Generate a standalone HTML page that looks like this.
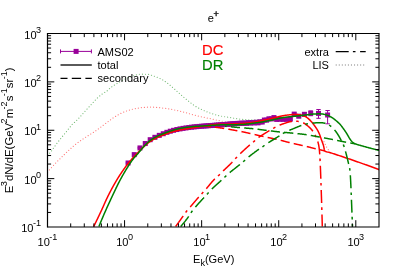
<!DOCTYPE html><html><head><meta charset="utf-8"><style>html,body{margin:0;padding:0;background:#fff}body{width:399px;height:279px;overflow:hidden}</style></head><body><svg width="399" height="279" viewBox="0 0 399 279" style="display:block;will-change:transform;opacity:0.999"><rect width="399" height="279" fill="#fff"/><defs><clipPath id="c"><rect x="47.5" y="33.5" width="331.5" height="193.5"/></clipPath></defs><g clip-path="url(#c)"><path d="M47.50,172.20 L48.28,171.28 L49.06,170.36 L49.83,169.46 L50.61,168.57 L51.39,167.69 L52.17,166.82 L52.94,165.97 L53.72,165.13 L54.50,164.30 L55.28,163.48 L56.05,162.68 L56.83,161.90 L57.61,161.12 L58.39,160.35 L59.16,159.59 L59.94,158.83 L60.72,158.07 L61.50,157.31 L62.27,156.54 L63.05,155.78 L63.83,155.02 L64.61,154.26 L65.38,153.51 L66.16,152.77 L66.94,152.03 L67.72,151.30 L68.49,150.58 L69.27,149.87 L70.05,149.16 L70.83,148.46 L71.61,147.76 L72.38,147.07 L73.16,146.39 L73.94,145.72 L74.72,145.07 L75.49,144.44 L76.27,143.82 L77.05,143.23 L77.83,142.64 L78.60,142.07 L79.38,141.51 L80.16,140.96 L80.94,140.42 L81.71,139.89 L82.49,139.36 L83.27,138.84 L84.05,138.32 L84.82,137.81 L85.60,137.30 L86.38,136.80 L87.16,136.29 L87.93,135.78 L88.71,135.29 L89.49,134.81 L90.27,134.34 L91.05,133.87 L91.82,133.40 L92.60,132.92 L93.38,132.43 L94.16,131.93 L94.93,131.41 L95.71,130.87 L96.49,130.32 L97.27,129.76 L98.04,129.20 L98.82,128.62 L99.60,128.04 L100.38,127.46 L101.15,126.87 L101.93,126.28 L102.71,125.70 L103.49,125.12 L104.26,124.54 L105.04,123.97 L105.82,123.40 L106.60,122.81 L107.37,122.22 L108.15,121.62 L108.93,121.02 L109.71,120.43 L110.48,119.84 L111.26,119.26 L112.04,118.70 L112.82,118.15 L113.60,117.62 L114.37,117.11 L115.15,116.63 L115.93,116.17 L116.71,115.71 L117.48,115.26 L118.26,114.82 L119.04,114.39 L119.82,113.97 L120.59,113.57 L121.37,113.18 L122.15,112.80 L122.93,112.45 L123.70,112.11 L124.48,111.80 L125.26,111.50 L126.04,111.22 L126.81,110.95 L127.59,110.68 L128.37,110.43 L129.15,110.18 L129.92,109.95 L130.70,109.72 L131.48,109.51 L132.26,109.31 L133.04,109.12 L133.81,108.94 L134.59,108.78 L135.37,108.63 L136.15,108.49 L136.92,108.35 L137.70,108.21 L138.48,108.08 L139.26,107.95 L140.03,107.83 L140.81,107.72 L141.59,107.62 L142.37,107.53 L143.14,107.45 L143.92,107.38 L144.70,107.32 L145.48,107.27 L146.25,107.23 L147.03,107.19 L147.81,107.15 L148.59,107.12 L149.36,107.10 L150.14,107.10 L150.92,107.11 L151.70,107.12 L152.47,107.15 L153.25,107.18 L154.03,107.22 L154.81,107.27 L155.59,107.33 L156.36,107.39 L157.14,107.45 L157.92,107.53 L158.70,107.60 L159.47,107.68 L160.25,107.76 L161.03,107.85 L161.81,107.94 L162.58,108.02 L163.36,108.11 L164.14,108.20 L164.92,108.29 L165.69,108.38 L166.47,108.48 L167.25,108.60 L168.03,108.72 L168.80,108.84 L169.58,108.98 L170.36,109.12 L171.14,109.27 L171.91,109.42 L172.69,109.58 L173.47,109.75 L174.25,109.92 L175.03,110.09 L175.80,110.27 L176.58,110.45 L177.36,110.63 L178.14,110.81 L178.91,110.99 L179.69,111.18 L180.47,111.36 L181.25,111.55 L182.02,111.73 L182.80,111.92 L183.58,112.12 L184.36,112.32 L185.13,112.53 L185.91,112.75 L186.69,112.97 L187.47,113.19 L188.24,113.42 L189.02,113.64 L189.80,113.86 L190.58,114.08 L191.35,114.29 L192.13,114.50 L192.91,114.71 L193.69,114.91 L194.46,115.11 L195.24,115.31 L196.02,115.51 L196.80,115.71 L197.58,115.91 L198.35,116.10 L199.13,116.29 L199.91,116.48 L200.69,116.66 L201.46,116.84 L202.24,117.01 L203.02,117.18 L203.80,117.35 L204.57,117.51 L205.35,117.67 L206.13,117.83 L206.91,117.99 L207.68,118.15 L208.46,118.31 L209.24,118.47 L210.02,118.63 L210.79,118.79 L211.57,118.96 L212.35,119.13 L213.13,119.31 L213.90,119.48 L214.68,119.66 L215.46,119.85 L216.24,120.03 L217.02,120.20 L217.79,120.38 L218.57,120.55 L219.35,120.71 L220.13,120.87 L220.90,121.01 L221.68,121.15 L222.46,121.29 L223.24,121.43 L224.01,121.57 L224.79,121.71 L225.57,121.83 L226.35,121.94 L227.12,122.02 L227.90,122.08 L228.68,122.12 L229.46,122.16 L230.23,122.19 L231.01,122.22 L231.79,122.25 L232.57,122.27 L233.34,122.30 L234.12,122.32 L234.90,122.34 L235.68,122.36 L236.45,122.37 L237.23,122.38 L238.01,122.39 L238.79,122.40 L239.57,122.40 L240.34,122.40 L241.12,122.39 L241.90,122.37 L242.68,122.34 L243.45,122.31 L244.23,122.26 L245.01,122.21 L245.79,122.16 L246.56,122.09 L247.34,122.02 L248.12,121.94 L248.90,121.86 L249.67,121.78 L250.45,121.69 L251.23,121.59 L252.01,121.49 L252.78,121.39 L253.56,121.29 L254.34,121.18 L255.12,121.08 L255.89,120.97 L256.67,120.86 L257.45,120.75 L258.23,120.64 L259.01,120.54 L259.78,120.43 L260.56,120.32 L261.34,120.21 L262.12,120.09 L262.89,119.97 L263.67,119.84 L264.45,119.71 L265.23,119.57 L266.00,119.43 L266.78,119.28 L267.56,119.13 L268.34,118.97 L269.11,118.81 L269.89,118.65 L270.67,118.48 L271.45,118.31 L272.22,118.13 L273.00,117.95 L273.78,117.77 L274.56,117.58 L275.33,117.39 L276.11,117.20 L276.89,117.01 L277.67,116.81 L278.44,116.61 L279.22,116.40 L280.00,116.20" fill="none" stroke="#ff0000" stroke-width="1.2" stroke-dasharray="0.01,3.04" stroke-opacity="0.52" stroke-linecap="round"/><path d="M324.00,141.60 L324.02,141.65 L324.05,141.71 L324.07,141.76 L324.10,141.82 L324.12,141.87 L324.14,141.92 L324.17,141.98 L324.19,142.03 L324.21,142.09 L324.24,142.14 L324.26,142.19 L324.29,142.25 L324.31,142.30 L324.34,142.36 L324.36,142.41 L324.38,142.46 L324.41,142.52 L324.43,142.57 L324.46,142.62 L324.48,142.68 L324.51,142.73 L324.53,142.78 L324.56,142.84 L324.58,142.89 L324.61,142.95 L324.63,143.00 L324.65,143.05 L324.68,143.11 L324.70,143.16 L324.73,143.21 L324.75,143.27 L324.78,143.32 L324.80,143.37 L324.83,143.43 L324.85,143.48 L324.88,143.53 L324.91,143.59 L324.93,143.64 L324.96,143.69 L324.98,143.75 L325.01,143.80 L325.03,143.85 L325.06,143.91 L325.08,143.96 L325.11,144.01 L325.13,144.07 L325.16,144.12 L325.19,144.17 L325.21,144.22 L325.24,144.28 L325.26,144.33 L325.29,144.38 L325.32,144.44 L325.34,144.49 L325.37,144.54 L325.39,144.60 L325.42,144.65 L325.44,144.70 L325.47,144.75 L325.50,144.81 L325.52,144.86 L325.55,144.91 L325.57,144.97 L325.60,145.02 L325.63,145.07 L325.65,145.13 L325.68,145.18 L325.71,145.23 L325.73,145.28 L325.76,145.34 L325.78,145.39 L325.81,145.44 L325.84,145.50 L325.86,145.55 L325.89,145.60 L325.92,145.65 L325.94,145.71 L325.97,145.76 L326.00,145.81 L326.02,145.86 L326.05,145.92 L326.08,145.97 L326.11,146.02 L326.13,146.07 L326.16,146.13 L326.19,146.18 L326.21,146.23 L326.24,146.28 L326.27,146.34 L326.30,146.39 L326.33,146.44 L326.35,146.49 L326.38,146.54 L326.41,146.60 L326.44,146.65 L326.46,146.70 L326.49,146.75 L326.52,146.80 L326.55,146.85 L326.58,146.91 L326.61,146.96 L326.64,147.01 L326.66,147.06 L326.69,147.11 L326.72,147.16 L326.75,147.21 L326.78,147.27 L326.81,147.32 L326.84,147.37 L326.87,147.42 L326.90,147.47 L326.93,147.52 L326.96,147.57 L326.99,147.62 L327.02,147.67 L327.05,147.72 L327.08,147.77 L327.11,147.82 L327.15,147.87 L327.18,147.92 L327.21,147.97 L327.24,148.02 L327.27,148.07 L327.31,148.12 L327.34,148.17 L327.37,148.22 L327.40,148.27 L327.43,148.32 L327.47,148.36 L327.50,148.41 L327.53,148.46 L327.57,148.51 L327.60,148.56 L327.63,148.61 L327.66,148.66 L327.70,148.71 L327.73,148.76 L327.76,148.81 L327.79,148.86 L327.83,148.91 L327.86,148.95 L327.89,149.00 L327.93,149.05 L327.96,149.10 L327.99,149.15 L328.02,149.20 L328.05,149.25 L328.09,149.30 L328.12,149.35 L328.15,149.40 L328.18,149.45 L328.21,149.50 L328.25,149.55 L328.28,149.60 L328.31,149.65 L328.34,149.70 L328.37,149.75 L328.40,149.80 L328.43,149.85 L328.46,149.90 L328.49,149.95 L328.52,150.00 L328.55,150.05 L328.58,150.10 L328.61,150.15 L328.64,150.21 L328.67,150.26 L328.70,150.31 L328.73,150.36 L328.76,150.41 L328.79,150.46 L328.82,150.51 L328.85,150.56 L328.88,150.61 L328.91,150.66 L328.94,150.71 L328.97,150.77 L329.00,150.82 L329.03,150.87 L329.06,150.92 L329.08,150.97 L329.11,151.02 L329.14,151.07 L329.17,151.12 L329.20,151.18 L329.23,151.23 L329.26,151.28 L329.29,151.33 L329.32,151.38 L329.34,151.43 L329.37,151.49 L329.40,151.54 L329.43,151.59 L329.46,151.64 L329.49,151.69 L329.52,151.74 L329.54,151.80 L329.57,151.85 L329.60,151.90" fill="none" stroke="#ff0000" stroke-width="1.2" stroke-dasharray="0.01,3.04" stroke-opacity="0.52" stroke-linecap="round"/><path d="M47.50,155.40 L48.26,154.68 L49.02,153.91 L49.78,153.06 L50.54,152.15 L51.30,151.18 L52.07,150.16 L52.83,149.11 L53.59,148.03 L54.35,146.95 L55.11,145.87 L55.87,144.80 L56.63,143.75 L57.39,142.74 L58.15,141.76 L58.91,140.80 L59.67,139.84 L60.43,138.89 L61.20,137.95 L61.96,137.02 L62.72,136.09 L63.48,135.16 L64.24,134.23 L65.00,133.31 L65.76,132.38 L66.52,131.46 L67.28,130.53 L68.04,129.59 L68.80,128.64 L69.57,127.64 L70.33,126.65 L71.09,125.69 L71.85,124.79 L72.61,123.99 L73.37,123.32 L74.13,122.72 L74.89,122.09 L75.65,121.38 L76.41,120.65 L77.17,119.89 L77.93,119.12 L78.70,118.32 L79.46,117.51 L80.22,116.68 L80.98,115.84 L81.74,114.99 L82.50,114.14 L83.26,113.28 L84.02,112.41 L84.78,111.55 L85.54,110.69 L86.30,109.83 L87.07,108.98 L87.83,108.14 L88.59,107.31 L89.35,106.49 L90.11,105.69 L90.87,104.89 L91.63,104.08 L92.39,103.27 L93.15,102.45 L93.91,101.63 L94.67,100.82 L95.43,100.02 L96.20,99.24 L96.96,98.47 L97.72,97.73 L98.48,97.02 L99.24,96.34 L100.00,95.70 L100.76,95.10 L101.52,94.55 L102.28,94.04 L103.04,93.55 L103.80,93.07 L104.57,92.59 L105.33,92.11 L106.09,91.60 L106.85,91.07 L107.61,90.49 L108.37,89.85 L109.13,89.06 L109.89,88.29 L110.65,87.68 L111.41,87.10 L112.17,86.55 L112.93,86.03 L113.70,85.53 L114.46,85.05 L115.22,84.59 L115.98,84.14 L116.74,83.70 L117.50,83.26 L118.26,82.82 L119.02,82.37 L119.78,81.92 L120.54,81.48 L121.30,81.04 L122.07,80.61 L122.83,80.18 L123.59,79.78 L124.35,79.38 L125.11,79.01 L125.87,78.66 L126.63,78.32 L127.39,78.00 L128.15,77.68 L128.91,77.38 L129.67,77.09 L130.43,76.80 L131.20,76.53 L131.96,76.27 L132.72,76.03 L133.48,75.79 L134.24,75.57 L135.00,75.33 L135.76,75.09 L136.52,74.85 L137.28,74.63 L138.04,74.44 L138.80,74.30 L139.57,74.22 L140.33,74.20 L141.09,74.20 L141.85,74.21 L142.61,74.21 L143.37,74.22 L144.13,74.23 L144.89,74.24 L145.65,74.26 L146.41,74.27 L147.17,74.29 L147.93,74.33 L148.70,74.43 L149.46,74.60 L150.22,74.82 L150.98,75.08 L151.74,75.35 L152.50,75.64 L153.26,75.92 L154.02,76.17 L154.78,76.43 L155.54,76.69 L156.30,76.97 L157.07,77.25 L157.83,77.55 L158.59,77.87 L159.35,78.20 L160.11,78.55 L160.87,78.93 L161.63,79.34 L162.39,79.78 L163.15,80.24 L163.91,80.72 L164.67,81.21 L165.43,81.72 L166.20,82.24 L166.96,82.80 L167.72,83.38 L168.48,83.98 L169.24,84.59 L170.00,85.22 L170.76,85.85 L171.52,86.49 L172.28,87.13 L173.04,87.80 L173.80,88.47 L174.57,89.15 L175.33,89.84 L176.09,90.51 L176.85,91.18 L177.61,91.86 L178.37,92.53 L179.13,93.20 L179.89,93.87 L180.65,94.54 L181.41,95.20 L182.17,95.85 L182.93,96.51 L183.70,97.17 L184.46,97.82 L185.22,98.47 L185.98,99.11 L186.74,99.75 L187.50,100.37 L188.26,100.98 L189.02,101.57 L189.78,102.16 L190.54,102.75 L191.30,103.34 L192.07,103.92 L192.83,104.48 L193.59,105.03 L194.35,105.56 L195.11,106.06 L195.87,106.54 L196.63,106.99 L197.39,107.42 L198.15,107.84 L198.91,108.24 L199.67,108.63 L200.43,109.00 L201.20,109.37 L201.96,109.72 L202.72,110.07 L203.48,110.40 L204.24,110.73 L205.00,111.06 L205.76,111.38 L206.52,111.69 L207.28,112.00 L208.04,112.30 L208.80,112.59 L209.57,112.87 L210.33,113.15 L211.09,113.41 L211.85,113.66 L212.61,113.90 L213.37,114.14 L214.13,114.36 L214.89,114.59 L215.65,114.80 L216.41,115.01 L217.17,115.22 L217.93,115.42 L218.70,115.60 L219.46,115.78 L220.22,115.95 L220.98,116.12 L221.74,116.27 L222.50,116.41 L223.26,116.54 L224.02,116.66 L224.78,116.78 L225.54,116.89 L226.30,117.01 L227.07,117.12 L227.83,117.23 L228.59,117.35 L229.35,117.47 L230.11,117.60 L230.87,117.74 L231.63,117.87 L232.39,118.01 L233.15,118.15 L233.91,118.28 L234.67,118.41 L235.43,118.53 L236.20,118.64 L236.96,118.74 L237.72,118.82 L238.48,118.91 L239.24,118.99 L240.00,119.08 L240.76,119.16 L241.52,119.25 L242.28,119.33 L243.04,119.40 L243.80,119.48 L244.57,119.54 L245.33,119.61 L246.09,119.66 L246.85,119.71 L247.61,119.74 L248.37,119.77 L249.13,119.79 L249.89,119.80 L250.65,119.80 L251.41,119.80 L252.17,119.79 L252.93,119.79 L253.70,119.78 L254.46,119.77 L255.22,119.76 L255.98,119.74 L256.74,119.73 L257.50,119.72 L258.26,119.70 L259.02,119.68 L259.78,119.66 L260.54,119.64 L261.30,119.62 L262.07,119.60 L262.83,119.57 L263.59,119.52 L264.35,119.47 L265.11,119.40 L265.87,119.32 L266.63,119.24 L267.39,119.14 L268.15,119.03 L268.91,118.92 L269.67,118.80 L270.43,118.67 L271.20,118.53 L271.96,118.39 L272.72,118.25 L273.48,118.10 L274.24,117.95 L275.00,117.80" fill="none" stroke="#008000" stroke-width="1.2" stroke-dasharray="0.01,3.04" stroke-opacity="0.52" stroke-linecap="round"/><path d="M128.07,162.59V163.39M125.87,162.59h4.4M125.87,163.39h4.4" stroke="#990099" stroke-width="1" fill="none"/><rect x="125.57" y="160.49" width="5" height="5" fill="#990099"/><path d="M134.24,154.21V155.01M132.04,154.21h4.4M132.04,155.01h4.4" stroke="#990099" stroke-width="1" fill="none"/><rect x="131.74" y="152.11" width="5" height="5" fill="#990099"/><path d="M139.98,147.53V148.33M137.78,147.53h4.4M137.78,148.33h4.4" stroke="#990099" stroke-width="1" fill="none"/><rect x="137.48" y="145.43" width="5" height="5" fill="#990099"/><path d="M145.25,143.13V143.93M143.05,143.13h4.4M143.05,143.93h4.4" stroke="#990099" stroke-width="1" fill="none"/><rect x="142.75" y="141.03" width="5" height="5" fill="#990099"/><path d="M150.19,139.29V140.09M147.99,139.29h4.4M147.99,140.09h4.4" stroke="#990099" stroke-width="1" fill="none"/><rect x="147.69" y="137.19" width="5" height="5" fill="#990099"/><path d="M154.90,136.90V137.70M152.70,136.90h4.4M152.70,137.70h4.4" stroke="#990099" stroke-width="1" fill="none"/><rect x="152.40" y="134.80" width="5" height="5" fill="#990099"/><path d="M159.27,134.95V135.75M157.07,134.95h4.4M157.07,135.75h4.4" stroke="#990099" stroke-width="1" fill="none"/><rect x="156.77" y="132.85" width="5" height="5" fill="#990099"/><path d="M163.25,133.32V134.12M161.05,133.32h4.4M161.05,134.12h4.4" stroke="#990099" stroke-width="1" fill="none"/><rect x="160.75" y="131.22" width="5" height="5" fill="#990099"/><path d="M166.89,131.92V132.72M164.69,131.92h4.4M164.69,132.72h4.4" stroke="#990099" stroke-width="1" fill="none"/><rect x="164.39" y="129.82" width="5" height="5" fill="#990099"/><path d="M170.30,130.81V131.61M168.10,130.81h4.4M168.10,131.61h4.4" stroke="#990099" stroke-width="1" fill="none"/><rect x="167.80" y="128.71" width="5" height="5" fill="#990099"/><path d="M173.59,129.91V130.71M171.39,129.91h4.4M171.39,130.71h4.4" stroke="#990099" stroke-width="1" fill="none"/><rect x="171.09" y="127.81" width="5" height="5" fill="#990099"/><path d="M176.83,129.14V129.94M174.63,129.14h4.4M174.63,129.94h4.4" stroke="#990099" stroke-width="1" fill="none"/><rect x="174.33" y="127.04" width="5" height="5" fill="#990099"/><path d="M180.01,128.50V129.30M177.81,128.50h4.4M177.81,129.30h4.4" stroke="#990099" stroke-width="1" fill="none"/><rect x="177.51" y="126.40" width="5" height="5" fill="#990099"/><path d="M183.06,127.97V128.77M180.86,127.97h4.4M180.86,128.77h4.4" stroke="#990099" stroke-width="1" fill="none"/><rect x="180.56" y="125.87" width="5" height="5" fill="#990099"/><path d="M185.99,127.52V128.32M183.79,127.52h4.4M183.79,128.32h4.4" stroke="#990099" stroke-width="1" fill="none"/><rect x="183.49" y="125.42" width="5" height="5" fill="#990099"/><path d="M188.81,127.13V127.93M186.61,127.13h4.4M186.61,127.93h4.4" stroke="#990099" stroke-width="1" fill="none"/><rect x="186.31" y="125.03" width="5" height="5" fill="#990099"/><path d="M191.52,126.78V127.58M189.32,126.78h4.4M189.32,127.58h4.4" stroke="#990099" stroke-width="1" fill="none"/><rect x="189.02" y="124.68" width="5" height="5" fill="#990099"/><path d="M194.13,126.49V127.29M191.93,126.49h4.4M191.93,127.29h4.4" stroke="#990099" stroke-width="1" fill="none"/><rect x="191.63" y="124.39" width="5" height="5" fill="#990099"/><path d="M196.67,126.24V127.04M194.47,126.24h4.4M194.47,127.04h4.4" stroke="#990099" stroke-width="1" fill="none"/><rect x="194.17" y="124.14" width="5" height="5" fill="#990099"/><path d="M199.14,126.02V126.82M196.94,126.02h4.4M196.94,126.82h4.4" stroke="#990099" stroke-width="1" fill="none"/><rect x="196.64" y="123.92" width="5" height="5" fill="#990099"/><path d="M201.53,125.83V126.63M199.33,125.83h4.4M199.33,126.63h4.4" stroke="#990099" stroke-width="1" fill="none"/><rect x="199.03" y="123.73" width="5" height="5" fill="#990099"/><path d="M203.83,125.65V126.45M201.63,125.65h4.4M201.63,126.45h4.4" stroke="#990099" stroke-width="1" fill="none"/><rect x="201.33" y="123.55" width="5" height="5" fill="#990099"/><path d="M206.08,125.49V126.29M203.88,125.49h4.4M203.88,126.29h4.4" stroke="#990099" stroke-width="1" fill="none"/><rect x="203.58" y="123.39" width="5" height="5" fill="#990099"/><path d="M208.27,125.33V126.13M206.07,125.33h4.4M206.07,126.13h4.4" stroke="#990099" stroke-width="1" fill="none"/><rect x="205.77" y="123.23" width="5" height="5" fill="#990099"/><path d="M210.41,125.17V125.97M208.21,125.17h4.4M208.21,125.97h4.4" stroke="#990099" stroke-width="1" fill="none"/><rect x="207.91" y="123.07" width="5" height="5" fill="#990099"/><path d="M212.49,125.01V125.81M210.29,125.01h4.4M210.29,125.81h4.4" stroke="#990099" stroke-width="1" fill="none"/><rect x="209.99" y="122.91" width="5" height="5" fill="#990099"/><path d="M214.52,124.86V125.66M212.32,124.86h4.4M212.32,125.66h4.4" stroke="#990099" stroke-width="1" fill="none"/><rect x="212.02" y="122.76" width="5" height="5" fill="#990099"/><path d="M216.51,124.72V125.52M214.31,124.72h4.4M214.31,125.52h4.4" stroke="#990099" stroke-width="1" fill="none"/><rect x="214.01" y="122.62" width="5" height="5" fill="#990099"/><path d="M218.45,124.58V125.38M216.25,124.58h4.4M216.25,125.38h4.4" stroke="#990099" stroke-width="1" fill="none"/><rect x="215.95" y="122.48" width="5" height="5" fill="#990099"/><path d="M220.35,124.44V125.24M218.15,124.44h4.4M218.15,125.24h4.4" stroke="#990099" stroke-width="1" fill="none"/><rect x="217.85" y="122.34" width="5" height="5" fill="#990099"/><path d="M222.20,124.31V125.11M220.00,124.31h4.4M220.00,125.11h4.4" stroke="#990099" stroke-width="1" fill="none"/><rect x="219.70" y="122.21" width="5" height="5" fill="#990099"/><path d="M224.02,124.17V124.97M221.82,124.17h4.4M221.82,124.97h4.4" stroke="#990099" stroke-width="1" fill="none"/><rect x="221.52" y="122.07" width="5" height="5" fill="#990099"/><path d="M225.80,124.04V124.84M223.60,124.04h4.4M223.60,124.84h4.4" stroke="#990099" stroke-width="1" fill="none"/><rect x="223.30" y="121.94" width="5" height="5" fill="#990099"/><path d="M227.56,123.89V124.69M225.36,123.89h4.4M225.36,124.69h4.4" stroke="#990099" stroke-width="1" fill="none"/><rect x="225.06" y="121.79" width="5" height="5" fill="#990099"/><path d="M229.28,123.74V124.54M227.08,123.74h4.4M227.08,124.54h4.4" stroke="#990099" stroke-width="1" fill="none"/><rect x="226.78" y="121.64" width="5" height="5" fill="#990099"/><path d="M230.97,123.58V124.40M228.77,123.58h4.4M228.77,124.40h4.4" stroke="#990099" stroke-width="1" fill="none"/><rect x="228.47" y="121.49" width="5" height="5" fill="#990099"/><path d="M232.66,123.41V124.27M230.46,123.41h4.4M230.46,124.27h4.4" stroke="#990099" stroke-width="1" fill="none"/><rect x="230.16" y="121.34" width="5" height="5" fill="#990099"/><path d="M234.35,123.24V124.15M232.15,123.24h4.4M232.15,124.15h4.4" stroke="#990099" stroke-width="1" fill="none"/><rect x="231.85" y="121.20" width="5" height="5" fill="#990099"/><path d="M236.06,123.09V124.04M233.86,123.09h4.4M233.86,124.04h4.4" stroke="#990099" stroke-width="1" fill="none"/><rect x="233.56" y="121.07" width="5" height="5" fill="#990099"/><path d="M237.79,122.91V123.89M235.59,122.91h4.4M235.59,123.89h4.4" stroke="#990099" stroke-width="1" fill="none"/><rect x="235.29" y="120.90" width="5" height="5" fill="#990099"/><path d="M239.53,122.87V123.89M237.33,122.87h4.4M237.33,123.89h4.4" stroke="#990099" stroke-width="1" fill="none"/><rect x="237.03" y="120.88" width="5" height="5" fill="#990099"/><path d="M241.27,122.60V123.67M239.07,122.60h4.4M239.07,123.67h4.4" stroke="#990099" stroke-width="1" fill="none"/><rect x="238.77" y="120.64" width="5" height="5" fill="#990099"/><path d="M243.04,122.77V123.88M240.84,122.77h4.4M240.84,123.88h4.4" stroke="#990099" stroke-width="1" fill="none"/><rect x="240.54" y="120.83" width="5" height="5" fill="#990099"/><path d="M244.82,122.45V123.60M242.62,122.45h4.4M242.62,123.60h4.4" stroke="#990099" stroke-width="1" fill="none"/><rect x="242.32" y="120.52" width="5" height="5" fill="#990099"/><path d="M246.63,122.72V123.92M244.43,122.72h4.4M244.43,123.92h4.4" stroke="#990099" stroke-width="1" fill="none"/><rect x="244.13" y="120.82" width="5" height="5" fill="#990099"/><path d="M248.46,122.08V123.32M246.26,122.08h4.4M246.26,123.32h4.4" stroke="#990099" stroke-width="1" fill="none"/><rect x="245.96" y="120.20" width="5" height="5" fill="#990099"/><path d="M250.31,122.36V123.65M248.11,122.36h4.4M248.11,123.65h4.4" stroke="#990099" stroke-width="1" fill="none"/><rect x="247.81" y="120.51" width="5" height="5" fill="#990099"/><path d="M252.19,121.92V123.26M249.99,121.92h4.4M249.99,123.26h4.4" stroke="#990099" stroke-width="1" fill="none"/><rect x="249.69" y="120.09" width="5" height="5" fill="#990099"/><path d="M254.11,122.24V123.61M251.91,122.24h4.4M251.91,123.61h4.4" stroke="#990099" stroke-width="1" fill="none"/><rect x="251.61" y="120.43" width="5" height="5" fill="#990099"/><path d="M256.06,121.52V122.95M253.86,121.52h4.4M253.86,122.95h4.4" stroke="#990099" stroke-width="1" fill="none"/><rect x="253.56" y="119.73" width="5" height="5" fill="#990099"/><path d="M258.05,122.12V123.59M255.85,122.12h4.4M255.85,123.59h4.4" stroke="#990099" stroke-width="1" fill="none"/><rect x="255.55" y="120.36" width="5" height="5" fill="#990099"/><path d="M260.10,121.05V122.58M257.90,121.05h4.4M257.90,122.58h4.4" stroke="#990099" stroke-width="1" fill="none"/><rect x="257.60" y="119.31" width="5" height="5" fill="#990099"/><path d="M262.20,121.25V122.82M260.00,121.25h4.4M260.00,122.82h4.4" stroke="#990099" stroke-width="1" fill="none"/><rect x="259.70" y="119.54" width="5" height="5" fill="#990099"/><path d="M264.37,119.23V120.85M262.17,119.23h4.4M262.17,120.85h4.4" stroke="#990099" stroke-width="1" fill="none"/><rect x="261.87" y="117.54" width="5" height="5" fill="#990099"/><path d="M266.61,119.32V121.00M264.41,119.32h4.4M264.41,121.00h4.4" stroke="#990099" stroke-width="1" fill="none"/><rect x="264.11" y="117.66" width="5" height="5" fill="#990099"/><path d="M268.94,117.94V119.67M266.74,117.94h4.4M266.74,119.67h4.4" stroke="#990099" stroke-width="1" fill="none"/><rect x="266.44" y="116.30" width="5" height="5" fill="#990099"/><path d="M271.38,118.03V119.82M269.18,118.03h4.4M269.18,119.82h4.4" stroke="#990099" stroke-width="1" fill="none"/><rect x="268.88" y="116.43" width="5" height="5" fill="#990099"/><path d="M273.95,116.66V118.51M271.75,116.66h4.4M271.75,118.51h4.4" stroke="#990099" stroke-width="1" fill="none"/><rect x="271.45" y="115.08" width="5" height="5" fill="#990099"/><path d="M276.67,118.46V120.38M274.47,118.46h4.4M274.47,120.38h4.4" stroke="#990099" stroke-width="1" fill="none"/><rect x="274.17" y="116.92" width="5" height="5" fill="#990099"/><path d="M279.90,118.50V120.10M277.70,118.50h4.4M277.70,120.10h4.4" stroke="#990099" stroke-width="1" fill="none"/><rect x="277.40" y="116.80" width="5" height="5" fill="#990099"/><path d="M283.00,118.60V120.20M280.80,118.60h4.4M280.80,120.20h4.4" stroke="#990099" stroke-width="1" fill="none"/><rect x="280.50" y="116.90" width="5" height="5" fill="#990099"/><path d="M286.50,118.50V120.30M284.30,118.50h4.4M284.30,120.30h4.4" stroke="#990099" stroke-width="1" fill="none"/><rect x="284.00" y="116.90" width="5" height="5" fill="#990099"/><path d="M290.30,118.20V120.20M288.10,118.20h4.4M288.10,120.20h4.4" stroke="#990099" stroke-width="1" fill="none"/><rect x="287.80" y="116.70" width="5" height="5" fill="#990099"/><path d="M294.20,112.90V115.30M292.00,112.90h4.4M292.00,115.30h4.4" stroke="#990099" stroke-width="1" fill="none"/><rect x="291.70" y="111.60" width="5" height="5" fill="#990099"/><path d="M298.80,114.80V117.60M296.60,114.80h4.4M296.60,117.60h4.4" stroke="#990099" stroke-width="1" fill="none"/><rect x="296.30" y="113.70" width="5" height="5" fill="#990099"/><path d="M304.40,112.50V116.10M302.20,112.50h4.4M302.20,116.10h4.4" stroke="#990099" stroke-width="1" fill="none"/><rect x="301.90" y="111.80" width="5" height="5" fill="#990099"/><path d="M310.70,110.90V115.70M308.50,110.90h4.4M308.50,115.70h4.4" stroke="#990099" stroke-width="1" fill="none"/><rect x="308.20" y="110.80" width="5" height="5" fill="#990099"/><path d="M318.50,109.50V118.30M316.30,109.50h4.4M316.30,118.30h4.4" stroke="#990099" stroke-width="1" fill="none"/><rect x="316.00" y="110.90" width="5" height="5" fill="#990099"/><path d="M327.60,110.50V123.80M325.40,110.50h4.4M325.40,123.80h4.4" stroke="#990099" stroke-width="1" fill="none"/><rect x="325.10" y="112.50" width="5" height="5" fill="#990099"/><path d="M93.70,226.50 L94.02,225.85 L94.34,225.20 L94.66,224.56 L94.98,223.91 L95.30,223.26 L95.62,222.61 L95.93,221.96 L96.25,221.31 L96.57,220.66 L96.88,220.01 L97.20,219.36 L97.51,218.71 L97.82,218.06 L98.14,217.41 L98.45,216.76 L98.76,216.10 L99.07,215.45 L99.38,214.80 L99.69,214.15 L100.00,213.50 L100.31,212.84 L100.62,212.19 L100.93,211.54 L101.24,210.88 L101.54,210.23 L101.84,209.57 L102.14,208.91 L102.44,208.25 L102.74,207.59 L103.03,206.93 L103.33,206.27 L103.62,205.61 L103.91,204.95 L104.21,204.29 L104.50,203.63 L104.80,202.97 L105.09,202.31 L105.39,201.65 L105.69,200.99 L105.99,200.33 L106.29,199.68 L106.60,199.02 L106.90,198.37 L107.21,197.72 L107.53,197.07 L107.84,196.42 L108.16,195.77 L108.49,195.13 L108.81,194.48 L109.14,193.84 L109.46,193.19 L109.79,192.55 L110.13,191.91 L110.46,191.27 L110.80,190.63 L111.13,189.99 L111.47,189.35 L111.81,188.71 L112.16,188.07 L112.50,187.44 L112.85,186.80 L113.20,186.17 L113.55,185.53 L113.90,184.90 L114.26,184.27 L114.62,183.65 L114.98,183.02 L115.34,182.40 L115.70,181.77 L116.07,181.15 L116.44,180.53 L116.81,179.91 L117.19,179.30 L117.56,178.68 L117.94,178.07 L118.33,177.46 L118.71,176.85 L119.10,176.24 L119.49,175.63 L119.89,175.02 L120.29,174.42 L120.68,173.81 L121.09,173.21 L121.49,172.61 L121.90,172.01 L122.31,171.42 L122.72,170.82 L123.13,170.23 L123.55,169.64 L123.97,169.05 L124.39,168.46 L124.81,167.87 L125.23,167.29 L125.66,166.71 L126.09,166.13 L126.53,165.55 L126.96,164.98 L127.41,164.40 L127.85,163.83 L128.30,163.27 L128.75,162.70 L129.21,162.14 L129.67,161.58 L130.13,161.03 L130.60,160.47 L131.06,159.93 L131.54,159.38 L132.01,158.84 L132.50,158.30 L132.98,157.77 L133.47,157.24 L133.96,156.71 L134.46,156.18 L134.96,155.65 L135.46,155.13 L135.96,154.61 L136.46,154.09 L136.96,153.57 L137.47,153.05 L137.97,152.53 L138.48,152.02 L138.98,151.50 L139.48,150.98 L139.99,150.46 L140.49,149.94 L141.00,149.43 L141.51,148.91 L142.02,148.40 L142.54,147.89 L143.06,147.39 L143.58,146.89 L144.11,146.40 L144.64,145.92 L145.18,145.44 L145.73,144.97 L146.28,144.49 L146.83,144.03 L147.39,143.57 L147.96,143.11 L148.53,142.67 L149.11,142.24 L149.69,141.82 L150.28,141.41 L150.88,141.01 L151.49,140.62 L152.11,140.23 L152.73,139.86 L153.36,139.50 L153.99,139.14 L154.62,138.80 L155.26,138.47 L155.90,138.14 L156.55,137.83 L157.21,137.52 L157.87,137.22 L158.53,136.93 L159.19,136.64 L159.86,136.36 L160.53,136.08 L161.19,135.81 L161.86,135.54 L162.54,135.27 L163.21,135.00 L163.88,134.74 L164.56,134.48 L165.24,134.22 L165.92,133.97 L166.60,133.73 L167.28,133.49 L167.96,133.26 L168.65,133.03 L169.34,132.81 L170.02,132.59 L170.71,132.38 L171.40,132.18 L172.10,131.98 L172.79,131.78 L173.49,131.58 L174.19,131.39 L174.89,131.21 L175.59,131.02 L176.29,130.85 L176.99,130.67 L177.70,130.51 L178.40,130.35 L179.11,130.19 L179.81,130.04 L180.52,129.89 L181.23,129.75 L181.93,129.62 L182.64,129.48 L183.35,129.36 L184.06,129.23 L184.78,129.11 L185.49,128.99 L186.20,128.87 L186.92,128.75 L187.63,128.64 L188.34,128.53 L189.06,128.41 L189.77,128.30 L190.49,128.19 L191.21,128.08 L191.92,127.98 L192.64,127.87 L193.35,127.76 L194.06,127.65 L194.78,127.53 L195.49,127.42 L196.21,127.31 L196.92,127.20 L197.64,127.09 L198.35,126.99 L199.06,126.88 L199.78,126.77 L200.49,126.67 L201.21,126.56 L201.92,126.46 L202.64,126.35 L203.35,126.25 L204.07,126.14 L204.78,126.03 L205.50,125.92 L206.21,125.81 L206.93,125.68 L207.64,125.55 L208.35,125.42 L209.07,125.29 L209.78,125.16 L210.49,125.04 L211.21,124.92 L211.92,124.81 L212.64,124.72 L213.35,124.63 L214.07,124.56 L214.79,124.51 L215.50,124.48 L216.22,124.44 L216.95,124.42 L217.67,124.39 L218.39,124.37 L219.11,124.35 L219.83,124.33 L220.56,124.32 L221.28,124.30 L222.00,124.28 L222.73,124.27 L223.45,124.25 L224.17,124.23 L224.90,124.20 L225.62,124.18 L226.34,124.15 L227.06,124.13 L227.79,124.11 L228.51,124.08 L229.23,124.06 L229.95,124.03 L230.68,124.01 L231.40,123.98 L232.12,123.96 L232.84,123.93 L233.56,123.90 L234.29,123.87 L235.01,123.84 L235.73,123.81 L236.45,123.78 L237.17,123.75 L237.90,123.71 L238.62,123.68 L239.34,123.64 L240.06,123.60 L240.78,123.55 L241.50,123.51 L242.22,123.46 L242.94,123.40 L243.66,123.34 L244.38,123.28 L245.10,123.22 L245.82,123.15 L246.54,123.08 L247.26,123.01 L247.98,122.93 L248.70,122.85 L249.42,122.77 L250.13,122.68 L250.85,122.59 L251.56,122.48 L252.28,122.37 L252.99,122.25 L253.70,122.13 L254.42,122.00 L255.13,121.88 L255.84,121.76 L256.55,121.63 L257.26,121.50 L257.97,121.38 L258.69,121.24 L259.40,121.11 L260.11,120.98 L260.82,120.84 L261.52,120.70 L262.23,120.55 L262.94,120.40 L263.64,120.25 L264.35,120.10 L265.05,119.94 L265.76,119.77 L266.46,119.61 L267.17,119.44 L267.87,119.28 L268.57,119.11 L269.28,118.94 L269.98,118.77 L270.68,118.61 L271.39,118.44 L272.09,118.28 L272.79,118.11 L273.50,117.94 L274.20,117.77 L274.90,117.60 L275.60,117.42 L276.30,117.24 L277.01,117.07 L277.71,116.89 L278.41,116.72 L279.11,116.55 L279.82,116.39 L280.52,116.23 L281.23,116.08 L281.93,115.94 L282.64,115.80 L283.35,115.67 L284.06,115.55 L284.78,115.44 L285.49,115.33 L286.21,115.23 L286.93,115.13 L287.64,115.04 L288.36,114.96 L289.08,114.87 L289.80,114.79 L290.52,114.72 L291.24,114.66 L291.96,114.61 L292.68,114.58 L293.40,114.55 L294.12,114.53 L294.85,114.51 L295.57,114.50 L296.29,114.51 L297.01,114.54 L297.74,114.59 L298.46,114.65 L299.17,114.72 L299.89,114.82 L300.60,114.95 L301.31,115.11 L302.01,115.28 L302.71,115.47 L303.41,115.69 L304.09,115.94 L304.74,116.22 L305.37,116.54 L305.99,116.91 L306.60,117.31 L307.19,117.74 L307.77,118.20 L308.33,118.67 L308.88,119.14 L309.42,119.63 L309.94,120.11 L310.44,120.62 L310.94,121.14 L311.42,121.68 L311.90,122.24 L312.36,122.80 L312.81,123.37 L313.26,123.95 L313.69,124.52 L314.12,125.10 L314.55,125.68 L314.97,126.27 L315.39,126.86 L315.81,127.46 L316.22,128.07 L316.61,128.68 L317.00,129.29 L317.38,129.92 L317.74,130.54 L318.08,131.17 L318.41,131.81 L318.72,132.45 L319.01,133.10 L319.29,133.76 L319.56,134.43 L319.81,135.11 L320.06,135.79 L320.30,136.47 L320.54,137.16 L320.78,137.85 L321.02,138.54 L321.25,139.22 L321.49,139.90 L321.74,140.58 L321.99,141.26 L322.24,141.94 L322.49,142.62 L322.74,143.30 L322.98,143.98 L323.21,144.67 L323.43,145.35 L323.63,146.06 L323.79,146.84 L323.94,147.66 L324.09,148.48 L324.24,149.25 L324.41,149.96 L324.62,150.54 L324.88,150.97 L325.25,151.28 L325.80,151.53 L326.49,151.75 L327.26,151.94 L328.08,152.12 L328.89,152.30 L329.66,152.50 L330.36,152.72 L331.05,152.94 L331.74,153.16 L332.43,153.38 L333.11,153.60 L333.80,153.82 L334.49,154.05 L335.18,154.27 L335.86,154.50 L336.55,154.72 L337.24,154.95 L337.92,155.17 L338.61,155.40 L339.30,155.62 L339.98,155.85 L340.67,156.08 L341.35,156.31 L342.04,156.54 L342.72,156.76 L343.41,156.99 L344.09,157.22 L344.78,157.45 L345.46,157.68 L346.15,157.92 L346.83,158.15 L347.52,158.38 L348.20,158.61 L348.88,158.85 L349.57,159.08 L350.25,159.31 L350.94,159.55 L351.62,159.78 L352.30,160.02 L352.98,160.26 L353.67,160.49 L354.35,160.73 L355.03,160.97 L355.71,161.20 L356.40,161.44 L357.08,161.68 L357.76,161.92 L358.44,162.16 L359.12,162.40 L359.81,162.64 L360.49,162.88 L361.17,163.12 L361.85,163.36 L362.53,163.61 L363.21,163.85 L363.89,164.09 L364.57,164.33 L365.25,164.58 L365.93,164.82 L366.61,165.07 L367.29,165.31 L367.97,165.56 L368.65,165.80 L369.33,166.05 L370.01,166.30 L370.69,166.54 L371.37,166.79 L372.05,167.04 L372.72,167.29 L373.40,167.54 L374.08,167.79 L374.76,168.04 L375.44,168.29 L376.11,168.54 L376.79,168.79 L377.47,169.04 L378.15,169.29 L378.82,169.55 L379.50,169.80" fill="none" stroke="#ff0000" stroke-width="1.5" /><path d="M205.00,126.00 L205.40,126.04 L205.80,126.09 L206.20,126.13 L206.60,126.18 L207.01,126.22 L207.41,126.27 L207.81,126.32 L208.21,126.36 L208.61,126.41 L209.01,126.46 L209.41,126.51 L209.81,126.55 L210.21,126.60 L210.61,126.65 L211.02,126.70 L211.42,126.75 L211.82,126.80 L212.22,126.85 L212.62,126.90 L213.02,126.95 L213.42,127.00 L213.82,127.05 L214.22,127.10 L214.62,127.15 L215.03,127.20 L215.43,127.26 L215.83,127.31 L216.23,127.36 L216.63,127.41 L217.03,127.47 L217.43,127.52 L217.83,127.57 L218.23,127.63 L218.63,127.68 L219.04,127.73 L219.44,127.79 L219.84,127.84 L220.24,127.90 L220.64,127.96 L221.04,128.01 L221.44,128.07 L221.84,128.13 L222.24,128.18 L222.64,128.24 L223.05,128.30 L223.45,128.36 L223.85,128.42 L224.25,128.48 L224.65,128.55 L225.05,128.61 L225.45,128.67 L225.85,128.74 L226.25,128.80 L226.65,128.87 L227.06,128.94 L227.46,129.00 L227.86,129.07 L228.26,129.14 L228.66,129.22 L229.06,129.29 L229.46,129.36 L229.86,129.43 L230.26,129.50 L230.66,129.58 L231.07,129.65 L231.47,129.72 L231.87,129.79 L232.27,129.87 L232.67,129.94 L233.07,130.01 L233.47,130.08 L233.87,130.16 L234.27,130.23 L234.67,130.30 L235.08,130.37 L235.48,130.45 L235.88,130.52 L236.28,130.59 L236.68,130.66 L237.08,130.74 L237.48,130.81 L237.88,130.88 L238.28,130.96 L238.68,131.03 L239.09,131.11 L239.49,131.19 L239.89,131.26 L240.29,131.34 L240.69,131.42 L241.09,131.50 L241.49,131.58 L241.89,131.66 L242.29,131.74 L242.69,131.83 L243.10,131.91 L243.50,132.00 L243.90,132.08 L244.30,132.17 L244.70,132.26 L245.10,132.35 L245.50,132.44 L245.90,132.53 L246.30,132.62 L246.70,132.71 L247.11,132.80 L247.51,132.89 L247.91,132.98 L248.31,133.07 L248.71,133.16 L249.11,133.25 L249.51,133.35 L249.91,133.44 L250.31,133.53 L250.71,133.62 L251.12,133.71 L251.52,133.80 L251.92,133.89 L252.32,133.98 L252.72,134.07 L253.12,134.16 L253.52,134.25 L253.92,134.35 L254.32,134.44 L254.72,134.53 L255.13,134.62 L255.53,134.72 L255.93,134.81 L256.33,134.90 L256.73,134.99 L257.13,135.09 L257.53,135.18 L257.93,135.27 L258.33,135.36 L258.73,135.46 L259.14,135.55 L259.54,135.64 L259.94,135.73 L260.34,135.82 L260.74,135.91 L261.14,136.01 L261.54,136.10 L261.94,136.19 L262.34,136.28 L262.74,136.37 L263.15,136.46 L263.55,136.54 L263.95,136.63 L264.35,136.72 L264.75,136.81 L265.15,136.89 L265.55,136.98 L265.95,137.06 L266.35,137.15 L266.75,137.23 L267.16,137.32 L267.56,137.40 L267.96,137.48 L268.36,137.57 L268.76,137.65 L269.16,137.73 L269.56,137.82 L269.96,137.90 L270.36,137.98 L270.76,138.06 L271.17,138.15 L271.57,138.23 L271.97,138.31 L272.37,138.40 L272.77,138.48 L273.17,138.57 L273.57,138.65 L273.97,138.74 L274.37,138.82 L274.77,138.91 L275.18,139.00 L275.58,139.09 L275.98,139.18 L276.38,139.27 L276.78,139.36 L277.18,139.45 L277.58,139.54 L277.98,139.64 L278.38,139.73 L278.78,139.83 L279.19,139.93 L279.59,140.03 L279.99,140.13 L280.39,140.23 L280.79,140.33 L281.19,140.43 L281.59,140.54 L281.99,140.64 L282.39,140.75 L282.79,140.85 L283.20,140.96 L283.60,141.06 L284.00,141.17 L284.40,141.27 L284.80,141.38 L285.20,141.48 L285.60,141.59 L286.00,141.69 L286.40,141.80 L286.80,141.90 L287.21,142.00 L287.61,142.11 L288.01,142.21 L288.41,142.31 L288.81,142.41 L289.21,142.51 L289.61,142.60 L290.01,142.70 L290.41,142.80 L290.81,142.89 L291.22,142.99 L291.62,143.08 L292.02,143.17 L292.42,143.27 L292.82,143.36 L293.22,143.45 L293.62,143.55 L294.02,143.64 L294.42,143.73 L294.82,143.82 L295.23,143.91 L295.63,144.00 L296.03,144.10 L296.43,144.19 L296.83,144.28 L297.23,144.37 L297.63,144.46 L298.03,144.55 L298.43,144.64 L298.83,144.73 L299.24,144.83 L299.64,144.92 L300.04,145.01 L300.44,145.10 L300.84,145.19 L301.24,145.28 L301.64,145.37 L302.04,145.46 L302.44,145.55 L302.84,145.64 L303.25,145.73 L303.65,145.82 L304.05,145.91 L304.45,146.00 L304.85,146.09 L305.25,146.18 L305.65,146.27 L306.05,146.37 L306.45,146.46 L306.85,146.55 L307.26,146.65 L307.66,146.74 L308.06,146.84 L308.46,146.94 L308.86,147.04 L309.26,147.14 L309.66,147.24 L310.06,147.34 L310.46,147.44 L310.86,147.55 L311.27,147.65 L311.67,147.75 L312.07,147.86 L312.47,147.96 L312.87,148.07 L313.27,148.17 L313.67,148.27 L314.07,148.37 L314.47,148.47 L314.87,148.57 L315.28,148.67 L315.68,148.76 L316.08,148.86 L316.48,148.95 L316.88,149.04 L317.28,149.13 L317.68,149.23 L318.08,149.32 L318.48,149.41 L318.88,149.50 L319.29,149.59 L319.69,149.69 L320.09,149.78 L320.49,149.88 L320.89,149.97 L321.29,150.07 L321.69,150.17 L322.09,150.27 L322.49,150.37 L322.89,150.48 L323.30,150.58 L323.70,150.68 L324.10,150.79 L324.50,150.89 L324.90,151.00" fill="none" stroke="#ff0000" stroke-width="1.5" stroke-dasharray="9.2,4.2" stroke-dashoffset="3.27" /><path d="M175.60,226.50 L175.88,226.12 L176.15,225.75 L176.43,225.37 L176.71,224.99 L176.98,224.61 L177.26,224.24 L177.54,223.86 L177.81,223.48 L178.09,223.10 L178.36,222.72 L178.64,222.35 L178.91,221.97 L179.19,221.59 L179.46,221.21 L179.74,220.83 L180.01,220.45 L180.28,220.07 L180.56,219.69 L180.83,219.31 L181.10,218.93 L181.38,218.55 L181.65,218.17 L181.92,217.79 L182.19,217.41 L182.46,217.03 L182.74,216.65 L183.01,216.27 L183.27,215.88 L183.54,215.50 L183.81,215.11 L184.07,214.72 L184.34,214.34 L184.60,213.95 L184.87,213.57 L185.14,213.18 L185.41,212.80 L185.68,212.42 L185.96,212.05 L186.24,211.68 L186.53,211.31 L186.82,210.94 L187.12,210.58 L187.42,210.22 L187.72,209.87 L188.02,209.51 L188.33,209.16 L188.64,208.81 L188.95,208.45 L189.26,208.10 L189.57,207.75 L189.87,207.40 L190.18,207.04 L190.48,206.69 L190.79,206.33 L191.09,205.97 L191.39,205.61 L191.69,205.26 L191.99,204.90 L192.30,204.54 L192.60,204.18 L192.90,203.83 L193.20,203.47 L193.50,203.11 L193.80,202.75 L194.11,202.39 L194.41,202.04 L194.71,201.68 L195.01,201.32 L195.32,200.97 L195.62,200.61 L195.92,200.25 L196.23,199.90 L196.53,199.54 L196.84,199.19 L197.15,198.84 L197.45,198.48 L197.76,198.13 L198.07,197.78 L198.38,197.43 L198.69,197.08 L199.01,196.74 L199.32,196.39 L199.64,196.05 L199.96,195.71 L200.28,195.36 L200.60,195.02 L200.92,194.68 L201.24,194.34 L201.55,193.99 L201.87,193.65 L202.19,193.30 L202.50,192.96 L202.82,192.61 L203.13,192.27 L203.45,191.92 L203.76,191.57 L204.07,191.22 L204.39,190.88 L204.70,190.53 L205.01,190.18 L205.32,189.83 L205.63,189.48 L205.94,189.13 L206.25,188.77 L206.55,188.42 L206.85,188.06 L207.16,187.70 L207.46,187.34 L207.76,186.98 L208.06,186.62 L208.35,186.26 L208.65,185.90 L208.95,185.53 L209.25,185.17 L209.54,184.81 L209.84,184.45 L210.14,184.08 L210.44,183.72 L210.74,183.36 L211.04,183.01 L211.34,182.65 L211.65,182.29 L211.96,181.94 L212.26,181.59 L212.57,181.24 L212.89,180.89 L213.20,180.55 L213.52,180.21 L213.84,179.87 L214.16,179.54 L214.49,179.21 L214.83,178.88 L215.17,178.56 L215.51,178.25 L215.86,177.94 L216.21,177.63 L216.57,177.32 L216.92,177.01 L217.27,176.70 L217.63,176.39 L217.97,176.08 L218.32,175.76 L218.66,175.44 L219.00,175.12 L219.33,174.79 L219.66,174.46 L219.99,174.13 L220.32,173.80 L220.65,173.47 L220.98,173.13 L221.31,172.80 L221.64,172.47 L221.97,172.13 L222.30,171.80 L222.63,171.47 L222.96,171.14 L223.29,170.81 L223.63,170.49 L223.97,170.16 L224.30,169.84 L224.64,169.51 L224.98,169.19 L225.32,168.87 L225.66,168.55 L226.00,168.22 L226.34,167.90 L226.68,167.58 L227.02,167.26 L227.36,166.94 L227.70,166.62 L228.04,166.29 L228.38,165.97 L228.72,165.65 L229.06,165.33 L229.40,165.00 L229.73,164.68 L230.07,164.35 L230.40,164.02 L230.73,163.69 L231.06,163.36 L231.39,163.03 L231.72,162.70 L232.04,162.36 L232.37,162.02 L232.69,161.68 L233.00,161.34 L233.32,160.99 L233.63,160.64 L233.94,160.29 L234.25,159.94 L234.56,159.59 L234.87,159.24 L235.19,158.90 L235.50,158.55 L235.82,158.20 L236.14,157.86 L236.46,157.52 L236.78,157.18 L237.10,156.84 L237.43,156.50 L237.75,156.17 L238.08,155.83 L238.40,155.50 L238.73,155.16 L239.06,154.83 L239.39,154.50 L239.72,154.17 L240.06,153.84 L240.39,153.52 L240.73,153.19 L241.06,152.87 L241.40,152.54 L241.74,152.22 L242.08,151.90 L242.42,151.58 L242.76,151.26 L243.10,150.94 L243.45,150.62 L243.79,150.30 L244.14,149.99 L244.48,149.67 L244.83,149.35 L245.17,149.04 L245.52,148.72 L245.87,148.41 L246.22,148.10 L246.57,147.79 L246.91,147.47 L247.26,147.16 L247.62,146.85 L247.97,146.54 L248.32,146.23 L248.67,145.93 L249.02,145.62 L249.37,145.31 L249.73,145.00 L250.08,144.70 L250.44,144.40 L250.80,144.10 L251.16,143.80 L251.52,143.50 L251.88,143.20 L252.24,142.90 L252.60,142.60 L252.96,142.31 L253.32,142.01 L253.68,141.70 L254.03,141.40 L254.39,141.09 L254.74,140.78 L255.09,140.47 L255.44,140.16 L255.79,139.84 L256.14,139.53 L256.49,139.21 L256.84,138.90 L257.19,138.60 L257.55,138.29 L257.91,138.00 L258.27,137.71 L258.64,137.42 L259.01,137.15 L259.38,136.87 L259.76,136.60 L260.14,136.34 L260.53,136.07 L260.92,135.81 L261.30,135.56 L261.69,135.30 L262.09,135.05 L262.48,134.80 L262.88,134.55 L263.28,134.30 L263.68,134.06 L264.08,133.81 L264.48,133.57 L264.88,133.33 L265.29,133.09 L265.69,132.85 L266.10,132.61 L266.50,132.37 L266.91,132.14 L267.31,131.90 L267.72,131.66 L268.12,131.43 L268.53,131.19 L268.93,130.95 L269.34,130.71 L269.74,130.47 L270.14,130.23 L270.54,129.99 L270.95,129.75 L271.35,129.51 L271.75,129.27 L272.15,129.03 L272.56,128.80 L272.96,128.56 L273.37,128.33 L273.77,128.10 L274.18,127.87 L274.59,127.65 L275.00,127.43 L275.42,127.21 L275.83,126.99 L276.25,126.77 L276.66,126.55 L277.08,126.34 L277.50,126.13 L277.92,125.92 L278.34,125.72 L278.77,125.52 L279.19,125.33 L279.62,125.15 L280.05,124.97 L280.48,124.80 L280.92,124.62 L281.36,124.45 L281.79,124.29 L282.23,124.13 L282.68,123.97 L283.12,123.81 L283.56,123.66 L284.01,123.52 L284.45,123.37 L284.90,123.23 L285.34,123.09 L285.79,122.95 L286.24,122.80 L286.69,122.65 L287.14,122.50 L287.59,122.36 L288.04,122.22 L288.49,122.09 L288.94,121.96 L289.40,121.85 L289.85,121.76 L290.31,121.68 L290.77,121.62 L291.23,121.58 L291.69,121.54 L292.16,121.51 L292.62,121.47 L293.09,121.44 L293.56,121.41 L294.03,121.39 L294.50,121.36 L294.97,121.34 L295.44,121.33 L295.91,121.31 L296.38,121.31 L296.84,121.30 L297.31,121.30 L297.77,121.33 L298.24,121.38 L298.70,121.45 L299.17,121.54 L299.64,121.65 L300.10,121.77 L300.56,121.90 L301.01,122.04 L301.46,122.18 L301.90,122.33 L302.33,122.48 L302.75,122.63 L303.17,122.81 L303.59,123.01 L304.00,123.24 L304.41,123.48 L304.81,123.73 L305.21,124.00 L305.60,124.28 L305.99,124.56 L306.37,124.84 L306.74,125.13 L307.11,125.41 L307.47,125.69 L307.83,125.98 L308.20,126.28 L308.55,126.59 L308.91,126.90 L309.26,127.22 L309.61,127.54 L309.95,127.87 L310.28,128.21 L310.62,128.55 L310.94,128.90 L311.26,129.25 L311.56,129.60 L311.86,129.96 L312.16,130.32 L312.44,130.68 L312.71,131.05 L312.97,131.43 L313.23,131.81 L313.48,132.20 L313.72,132.61 L313.95,133.01 L314.18,133.42 L314.41,133.84 L314.63,134.26 L314.85,134.68 L315.06,135.10 L315.27,135.52 L315.47,135.94 L315.68,136.36 L315.88,136.78 L316.08,137.21 L316.29,137.63 L316.48,138.06 L316.68,138.49 L316.86,138.92 L317.05,139.36 L317.22,139.79 L317.38,140.23 L317.53,140.67 L317.67,141.11 L317.80,141.55 L317.93,142.00 L318.05,142.45 L318.17,142.91 L318.29,143.36 L318.40,143.82 L318.50,144.28 L318.60,144.74 L318.69,145.20 L318.78,145.66 L318.86,146.12 L318.94,146.58 L319.01,147.04 L319.07,147.50 L319.13,147.97 L319.19,148.43 L319.25,148.89 L319.30,149.36 L319.35,149.83 L319.40,150.29 L319.45,150.76 L319.49,151.22 L319.53,151.69 L319.57,152.16 L319.61,152.63 L319.65,153.09 L319.68,153.56 L319.72,154.03 L319.75,154.49 L319.78,154.96 L319.80,155.43 L319.83,155.89 L319.85,156.36 L319.88,156.83 L319.90,157.30 L319.92,157.76 L319.95,158.23 L319.97,158.70 L319.99,159.17 L320.02,159.63 L320.04,160.10 L320.06,160.57 L320.09,161.03 L320.11,161.50 L320.13,161.97 L320.16,162.44 L320.18,162.90 L320.20,163.37 L320.22,163.84 L320.25,164.31 L320.27,164.77 L320.29,165.24 L320.31,165.71 L320.33,166.18 L320.35,166.64 L320.38,167.11 L320.40,167.58 L320.42,168.04 L320.44,168.51 L320.46,168.98 L320.48,169.45 L320.50,169.91 L320.52,170.38 L320.53,170.85 L320.55,171.32 L320.57,171.78 L320.59,172.25 L320.61,172.72 L320.63,173.19 L320.64,173.65 L320.66,174.12 L320.68,174.59 L320.70,175.06 L320.71,175.53 L320.73,175.99 L320.75,176.46 L320.76,176.93 L320.78,177.40 L320.80,177.86 L320.81,178.33 L320.83,178.80 L320.85,179.27 L320.86,179.73 L320.88,180.20 L320.90,180.67 L320.91,181.14 L320.93,181.60 L320.94,182.07 L320.96,182.54 L320.98,183.01 L320.99,183.47 L321.01,183.94 L321.02,184.41 L321.04,184.88 L321.06,185.34 L321.07,185.81 L321.09,186.28 L321.11,186.75 L321.12,187.22 L321.14,187.68 L321.15,188.15 L321.17,188.62 L321.19,189.09 L321.20,189.55 L321.22,190.02 L321.23,190.49 L321.25,190.96 L321.26,191.42 L321.28,191.89 L321.30,192.36 L321.31,192.83 L321.33,193.29 L321.34,193.76 L321.36,194.23 L321.37,194.70 L321.39,195.16 L321.40,195.63 L321.42,196.10 L321.43,196.57 L321.45,197.04 L321.47,197.50 L321.48,197.97 L321.50,198.44 L321.51,198.91 L321.53,199.37 L321.54,199.84 L321.55,200.31 L321.57,200.78 L321.58,201.24 L321.60,201.71 L321.61,202.18 L321.63,202.65 L321.64,203.11 L321.66,203.58 L321.67,204.05 L321.69,204.52 L321.70,204.99 L321.71,205.45 L321.73,205.92 L321.74,206.39 L321.76,206.86 L321.77,207.32 L321.78,207.79 L321.80,208.26 L321.81,208.73 L321.82,209.19 L321.84,209.66 L321.85,210.13 L321.87,210.60 L321.88,211.07 L321.89,211.53 L321.91,212.00 L321.92,212.47 L321.93,212.94 L321.95,213.40 L321.96,213.87 L321.97,214.34 L321.99,214.81 L322.00,215.27 L322.01,215.74 L322.03,216.21 L322.04,216.68 L322.05,217.15 L322.06,217.61 L322.08,218.08 L322.09,218.55 L322.10,219.02 L322.12,219.48 L322.13,219.95 L322.14,220.42 L322.15,220.89 L322.17,221.35 L322.18,221.82 L322.19,222.29 L322.20,222.76 L322.22,223.23 L322.23,223.69 L322.24,224.16 L322.25,224.63 L322.26,225.10 L322.28,225.56 L322.29,226.03 L322.30,226.50" fill="none" stroke="#ff0000" stroke-width="1.5" stroke-dasharray="13.0,4.2,2.6,4.6" /><path d="M98.90,226.50 L99.16,225.85 L99.43,225.21 L99.69,224.56 L99.96,223.92 L100.22,223.27 L100.49,222.63 L100.75,221.99 L101.02,221.34 L101.29,220.70 L101.56,220.06 L101.83,219.42 L102.10,218.77 L102.38,218.13 L102.65,217.49 L102.92,216.85 L103.20,216.21 L103.47,215.57 L103.75,214.93 L104.02,214.29 L104.30,213.65 L104.58,213.01 L104.86,212.37 L105.14,211.74 L105.42,211.10 L105.70,210.46 L105.99,209.82 L106.27,209.19 L106.55,208.55 L106.84,207.92 L107.13,207.28 L107.41,206.65 L107.70,206.01 L107.99,205.38 L108.28,204.74 L108.57,204.11 L108.86,203.48 L109.15,202.84 L109.45,202.21 L109.74,201.58 L110.03,200.95 L110.33,200.31 L110.62,199.68 L110.92,199.05 L111.21,198.42 L111.51,197.79 L111.81,197.16 L112.10,196.53 L112.40,195.90 L112.70,195.27 L112.99,194.64 L113.29,194.01 L113.59,193.38 L113.89,192.75 L114.18,192.11 L114.48,191.48 L114.78,190.85 L115.08,190.22 L115.37,189.59 L115.67,188.96 L115.97,188.33 L116.28,187.70 L116.58,187.08 L116.88,186.45 L117.19,185.82 L117.50,185.20 L117.81,184.57 L118.12,183.95 L118.43,183.33 L118.74,182.71 L119.06,182.09 L119.38,181.47 L119.70,180.85 L120.03,180.24 L120.36,179.62 L120.69,179.01 L121.02,178.40 L121.35,177.79 L121.69,177.18 L122.03,176.57 L122.37,175.96 L122.72,175.35 L123.06,174.75 L123.41,174.14 L123.76,173.54 L124.12,172.94 L124.47,172.34 L124.83,171.74 L125.18,171.14 L125.54,170.54 L125.91,169.95 L126.27,169.35 L126.63,168.76 L127.00,168.17 L127.37,167.57 L127.74,166.98 L128.11,166.39 L128.48,165.80 L128.85,165.21 L129.23,164.62 L129.61,164.04 L129.99,163.45 L130.37,162.87 L130.76,162.29 L131.16,161.72 L131.56,161.15 L131.97,160.59 L132.38,160.03 L132.80,159.48 L133.23,158.93 L133.67,158.39 L134.12,157.86 L134.57,157.33 L135.02,156.80 L135.48,156.28 L135.95,155.76 L136.41,155.24 L136.88,154.71 L137.34,154.19 L137.81,153.67 L138.27,153.15 L138.73,152.62 L139.18,152.09 L139.63,151.55 L140.07,151.01 L140.51,150.47 L140.95,149.93 L141.39,149.39 L141.83,148.84 L142.27,148.30 L142.72,147.77 L143.17,147.23 L143.62,146.71 L144.08,146.19 L144.55,145.67 L145.03,145.17 L145.51,144.67 L146.00,144.18 L146.50,143.68 L147.00,143.19 L147.51,142.71 L148.03,142.24 L148.55,141.78 L149.08,141.33 L149.62,140.89 L150.17,140.47 L150.73,140.06 L151.30,139.66 L151.88,139.27 L152.47,138.89 L153.06,138.52 L153.66,138.16 L154.27,137.81 L154.87,137.47 L155.48,137.14 L156.10,136.82 L156.72,136.50 L157.35,136.20 L157.98,135.90 L158.62,135.61 L159.25,135.32 L159.89,135.05 L160.53,134.77 L161.17,134.50 L161.82,134.23 L162.46,133.97 L163.11,133.71 L163.76,133.45 L164.41,133.19 L165.06,132.94 L165.71,132.70 L166.37,132.45 L167.02,132.22 L167.68,131.98 L168.34,131.75 L169.00,131.53 L169.66,131.31 L170.32,131.10 L170.98,130.88 L171.64,130.67 L172.31,130.46 L172.98,130.24 L173.64,130.04 L174.31,129.83 L174.98,129.63 L175.66,129.44 L176.33,129.25 L177.00,129.07 L177.68,128.90 L178.36,128.74 L179.03,128.59 L179.71,128.45 L180.39,128.33 L181.08,128.20 L181.76,128.08 L182.44,127.97 L183.13,127.85 L183.82,127.74 L184.51,127.63 L185.20,127.53 L185.89,127.43 L186.58,127.33 L187.27,127.24 L187.96,127.14 L188.66,127.05 L189.35,126.97 L190.05,126.89 L190.74,126.81 L191.43,126.73 L192.13,126.66 L192.82,126.59 L193.52,126.53 L194.21,126.47 L194.91,126.41 L195.60,126.35 L196.29,126.30 L196.99,126.25 L197.68,126.21 L198.38,126.17 L199.07,126.13 L199.77,126.09 L200.47,126.05 L201.16,126.01 L201.86,125.97 L202.56,125.94 L203.25,125.90 L203.95,125.86 L204.64,125.82 L205.34,125.78 L206.04,125.74 L206.73,125.69 L207.43,125.65 L208.12,125.61 L208.82,125.57 L209.51,125.52 L210.21,125.48 L210.90,125.44 L211.60,125.40 L212.30,125.35 L212.99,125.31 L213.69,125.27 L214.38,125.23 L215.08,125.20 L215.77,125.16 L216.47,125.11 L217.17,125.07 L217.86,125.03 L218.56,124.98 L219.25,124.94 L219.95,124.90 L220.65,124.86 L221.34,124.82 L222.04,124.79 L222.73,124.76 L223.43,124.74 L224.13,124.72 L224.82,124.70 L225.52,124.69 L226.22,124.69 L226.91,124.68 L227.61,124.67 L228.31,124.67 L229.00,124.67 L229.70,124.66 L230.40,124.66 L231.10,124.66 L231.79,124.65 L232.49,124.65 L233.19,124.65 L233.89,124.65 L234.58,124.64 L235.28,124.64 L235.98,124.64 L236.67,124.63 L237.37,124.63 L238.07,124.62 L238.76,124.61 L239.46,124.61 L240.15,124.60 L240.85,124.58 L241.54,124.55 L242.24,124.51 L242.93,124.46 L243.63,124.41 L244.32,124.34 L245.02,124.27 L245.71,124.20 L246.41,124.12 L247.10,124.04 L247.79,123.96 L248.49,123.88 L249.18,123.79 L249.87,123.71 L250.56,123.63 L251.25,123.54 L251.94,123.45 L252.63,123.35 L253.32,123.25 L254.01,123.14 L254.70,123.04 L255.39,122.95 L256.08,122.85 L256.77,122.76 L257.46,122.66 L258.15,122.57 L258.85,122.47 L259.54,122.38 L260.22,122.28 L260.91,122.17 L261.60,122.06 L262.29,121.95 L262.97,121.83 L263.66,121.71 L264.34,121.58 L265.03,121.45 L265.71,121.31 L266.40,121.18 L267.08,121.04 L267.76,120.89 L268.44,120.75 L269.13,120.61 L269.81,120.46 L270.49,120.32 L271.17,120.17 L271.85,120.03 L272.54,119.89 L273.22,119.74 L273.90,119.59 L274.58,119.43 L275.26,119.27 L275.94,119.11 L276.62,118.95 L277.30,118.79 L277.98,118.64 L278.66,118.48 L279.34,118.33 L280.02,118.18 L280.70,118.04 L281.38,117.91 L282.07,117.79 L282.75,117.67 L283.44,117.56 L284.13,117.46 L284.82,117.37 L285.51,117.28 L286.20,117.19 L286.89,117.11 L287.58,117.02 L288.28,116.94 L288.97,116.87 L289.66,116.79 L290.36,116.72 L291.05,116.64 L291.74,116.57 L292.44,116.49 L293.13,116.42 L293.82,116.34 L294.52,116.27 L295.21,116.20 L295.90,116.13 L296.60,116.06 L297.29,115.99 L297.98,115.92 L298.68,115.85 L299.37,115.77 L300.06,115.69 L300.75,115.61 L301.44,115.53 L302.14,115.44 L302.83,115.35 L303.52,115.26 L304.21,115.16 L304.90,115.07 L305.59,114.98 L306.28,114.89 L306.97,114.80 L307.66,114.71 L308.36,114.62 L309.05,114.53 L309.74,114.44 L310.43,114.35 L311.12,114.28 L311.82,114.21 L312.51,114.16 L313.21,114.11 L313.90,114.06 L314.60,114.01 L315.30,113.97 L315.99,113.93 L316.69,113.89 L317.39,113.86 L318.09,113.83 L318.78,113.81 L319.47,113.80 L320.17,113.80 L320.86,113.83 L321.56,113.89 L322.25,113.99 L322.95,114.10 L323.64,114.24 L324.33,114.39 L325.01,114.55 L325.68,114.72 L326.34,114.89 L326.99,115.09 L327.64,115.34 L328.29,115.61 L328.93,115.91 L329.56,116.22 L330.19,116.56 L330.80,116.90 L331.41,117.25 L332.01,117.60 L332.59,117.97 L333.16,118.36 L333.73,118.77 L334.28,119.20 L334.83,119.64 L335.38,120.08 L335.91,120.53 L336.45,120.97 L336.98,121.43 L337.51,121.88 L338.03,122.35 L338.54,122.83 L339.04,123.31 L339.53,123.80 L340.01,124.31 L340.47,124.83 L340.91,125.36 L341.35,125.90 L341.78,126.45 L342.20,127.01 L342.61,127.58 L343.02,128.14 L343.43,128.71 L343.84,129.27 L344.25,129.84 L344.65,130.41 L345.05,130.98 L345.44,131.55 L345.83,132.13 L346.22,132.71 L346.59,133.30 L346.95,133.90 L347.30,134.50 L347.65,135.11 L347.99,135.72 L348.33,136.33 L348.68,136.94 L349.03,137.54 L349.39,138.14 L349.77,138.72 L350.16,139.29 L350.57,139.86 L350.99,140.43 L351.43,140.99 L351.89,141.52 L352.37,142.00 L352.89,142.43 L353.46,142.83 L354.06,143.19 L354.69,143.53 L355.33,143.83 L355.96,144.08 L356.61,144.31 L357.28,144.53 L357.95,144.72 L358.63,144.91 L359.30,145.10 L359.97,145.29 L360.64,145.49 L361.31,145.69 L361.98,145.88 L362.65,146.07 L363.32,146.26 L363.99,146.44 L364.67,146.63 L365.34,146.81 L366.01,147.00 L366.68,147.18 L367.35,147.36 L368.03,147.54 L368.70,147.73 L369.37,147.91 L370.05,148.09 L370.72,148.26 L371.39,148.44 L372.07,148.62 L372.74,148.80 L373.42,148.97 L374.09,149.15 L374.77,149.32 L375.44,149.49 L376.12,149.66 L376.79,149.83 L377.47,150.00 L378.15,150.17 L378.82,150.33 L379.50,150.50" fill="none" stroke="#008000" stroke-width="1.5" /><path d="M225.00,126.20 L225.44,126.25 L225.87,126.29 L226.31,126.34 L226.75,126.39 L227.18,126.43 L227.62,126.48 L228.06,126.52 L228.49,126.57 L228.93,126.61 L229.36,126.66 L229.80,126.70 L230.24,126.74 L230.67,126.79 L231.11,126.83 L231.55,126.87 L231.98,126.92 L232.42,126.96 L232.86,127.00 L233.29,127.04 L233.73,127.08 L234.17,127.12 L234.60,127.16 L235.04,127.20 L235.47,127.24 L235.91,127.28 L236.35,127.32 L236.78,127.36 L237.22,127.40 L237.66,127.44 L238.09,127.47 L238.53,127.51 L238.97,127.55 L239.40,127.59 L239.84,127.62 L240.28,127.66 L240.71,127.69 L241.15,127.73 L241.59,127.77 L242.02,127.80 L242.46,127.84 L242.89,127.88 L243.33,127.91 L243.77,127.95 L244.20,127.98 L244.64,128.02 L245.08,128.06 L245.51,128.09 L245.95,128.12 L246.39,128.16 L246.82,128.19 L247.26,128.23 L247.70,128.26 L248.13,128.29 L248.57,128.33 L249.01,128.36 L249.44,128.39 L249.88,128.43 L250.31,128.46 L250.75,128.50 L251.19,128.54 L251.62,128.57 L252.06,128.61 L252.50,128.65 L252.93,128.69 L253.37,128.74 L253.81,128.78 L254.24,128.83 L254.68,128.87 L255.12,128.92 L255.55,128.97 L255.99,129.02 L256.42,129.07 L256.86,129.13 L257.30,129.18 L257.73,129.24 L258.17,129.29 L258.61,129.35 L259.04,129.40 L259.48,129.46 L259.92,129.52 L260.35,129.58 L260.79,129.63 L261.23,129.69 L261.66,129.75 L262.10,129.81 L262.54,129.87 L262.97,129.92 L263.41,129.98 L263.84,130.04 L264.28,130.10 L264.72,130.15 L265.15,130.21 L265.59,130.26 L266.03,130.32 L266.46,130.37 L266.90,130.42 L267.34,130.48 L267.77,130.53 L268.21,130.58 L268.65,130.64 L269.08,130.69 L269.52,130.74 L269.95,130.80 L270.39,130.85 L270.83,130.90 L271.26,130.96 L271.70,131.01 L272.14,131.06 L272.57,131.12 L273.01,131.17 L273.45,131.22 L273.88,131.27 L274.32,131.33 L274.76,131.38 L275.19,131.43 L275.63,131.48 L276.07,131.53 L276.50,131.58 L276.94,131.63 L277.37,131.68 L277.81,131.73 L278.25,131.78 L278.68,131.83 L279.12,131.88 L279.56,131.92 L279.99,131.97 L280.43,132.01 L280.87,132.06 L281.30,132.10 L281.74,132.14 L282.18,132.19 L282.61,132.23 L283.05,132.27 L283.48,132.31 L283.92,132.35 L284.36,132.39 L284.79,132.43 L285.23,132.47 L285.67,132.51 L286.10,132.55 L286.54,132.59 L286.98,132.62 L287.41,132.66 L287.85,132.70 L288.29,132.74 L288.72,132.78 L289.16,132.82 L289.60,132.86 L290.03,132.90 L290.47,132.94 L290.90,132.98 L291.34,133.02 L291.78,133.06 L292.21,133.10 L292.65,133.15 L293.09,133.19 L293.52,133.23 L293.96,133.28 L294.40,133.32 L294.83,133.36 L295.27,133.41 L295.71,133.45 L296.14,133.50 L296.58,133.54 L297.02,133.58 L297.45,133.63 L297.89,133.67 L298.32,133.72 L298.76,133.76 L299.20,133.81 L299.63,133.86 L300.07,133.90 L300.51,133.95 L300.94,134.00 L301.38,134.05 L301.82,134.10 L302.25,134.15 L302.69,134.21 L303.13,134.26 L303.56,134.31 L304.00,134.37 L304.43,134.42 L304.87,134.48 L305.31,134.54 L305.74,134.60 L306.18,134.67 L306.62,134.73 L307.05,134.80 L307.49,134.87 L307.93,134.94 L308.36,135.01 L308.80,135.09 L309.24,135.16 L309.67,135.24 L310.11,135.31 L310.55,135.39 L310.98,135.47 L311.42,135.55 L311.85,135.63 L312.29,135.71 L312.73,135.79 L313.16,135.88 L313.60,135.96 L314.04,136.04 L314.47,136.12 L314.91,136.20 L315.35,136.29 L315.78,136.37 L316.22,136.45 L316.66,136.53 L317.09,136.61 L317.53,136.69 L317.96,136.77 L318.40,136.84 L318.84,136.92 L319.27,137.00 L319.71,137.08 L320.15,137.16 L320.58,137.24 L321.02,137.32 L321.46,137.40 L321.89,137.48 L322.33,137.56 L322.77,137.64 L323.20,137.72 L323.64,137.80 L324.08,137.88 L324.51,137.96 L324.95,138.04 L325.38,138.13 L325.82,138.21 L326.26,138.29 L326.69,138.37 L327.13,138.45 L327.57,138.54 L328.00,138.62 L328.44,138.70 L328.88,138.78 L329.31,138.87 L329.75,138.95 L330.19,139.04 L330.62,139.12 L331.06,139.21 L331.49,139.29 L331.93,139.38 L332.37,139.46 L332.80,139.55 L333.24,139.64 L333.68,139.73 L334.11,139.81 L334.55,139.90 L334.99,139.99 L335.42,140.08 L335.86,140.17 L336.30,140.26 L336.73,140.35 L337.17,140.44 L337.61,140.53 L338.04,140.62 L338.48,140.71 L338.91,140.79 L339.35,140.88 L339.79,140.97 L340.22,141.06 L340.66,141.15 L341.10,141.24 L341.53,141.32 L341.97,141.41 L342.41,141.50 L342.84,141.58 L343.28,141.67 L343.72,141.75 L344.15,141.84 L344.59,141.92 L345.03,142.00 L345.46,142.09 L345.90,142.17 L346.33,142.25 L346.77,142.33 L347.21,142.41 L347.64,142.49 L348.08,142.58 L348.52,142.66 L348.95,142.74 L349.39,142.82 L349.83,142.89 L350.26,142.97 L350.70,143.05 L351.14,143.13 L351.57,143.21 L352.01,143.29 L352.44,143.36 L352.88,143.44 L353.32,143.52 L353.75,143.60 L354.19,143.67 L354.63,143.75 L355.06,143.82 L355.50,143.90" fill="none" stroke="#008000" stroke-width="1.5" stroke-dasharray="9.2,4.2" stroke-dashoffset="7.51" /><path d="M180.60,226.50 L180.94,226.14 L181.27,225.77 L181.60,225.40 L181.93,225.03 L182.26,224.66 L182.58,224.29 L182.90,223.91 L183.22,223.54 L183.54,223.16 L183.85,222.78 L184.17,222.40 L184.48,222.01 L184.79,221.63 L185.09,221.24 L185.40,220.86 L185.70,220.47 L186.00,220.08 L186.30,219.69 L186.60,219.30 L186.89,218.90 L187.19,218.51 L187.48,218.11 L187.77,217.72 L188.06,217.32 L188.34,216.92 L188.63,216.52 L188.90,216.11 L189.18,215.70 L189.44,215.29 L189.70,214.87 L189.96,214.45 L190.22,214.03 L190.48,213.60 L190.74,213.19 L191.01,212.77 L191.28,212.36 L191.55,211.95 L191.84,211.55 L192.13,211.16 L192.42,210.76 L192.72,210.37 L193.03,209.99 L193.34,209.60 L193.65,209.22 L193.96,208.84 L194.28,208.46 L194.60,208.08 L194.92,207.71 L195.24,207.33 L195.55,206.95 L195.87,206.58 L196.19,206.20 L196.51,205.83 L196.84,205.46 L197.16,205.09 L197.48,204.72 L197.81,204.35 L198.14,203.98 L198.46,203.61 L198.79,203.24 L199.12,202.87 L199.45,202.51 L199.78,202.14 L200.11,201.78 L200.44,201.41 L200.77,201.05 L201.11,200.68 L201.44,200.32 L201.77,199.96 L202.10,199.59 L202.44,199.23 L202.77,198.86 L203.10,198.50 L203.44,198.14 L203.77,197.77 L204.10,197.41 L204.43,197.05 L204.76,196.68 L205.10,196.32 L205.43,195.96 L205.77,195.60 L206.10,195.23 L206.44,194.87 L206.77,194.51 L207.11,194.15 L207.44,193.79 L207.78,193.43 L208.11,193.06 L208.44,192.70 L208.77,192.33 L209.10,191.97 L209.43,191.60 L209.77,191.24 L210.10,190.87 L210.43,190.51 L210.77,190.15 L211.11,189.80 L211.45,189.45 L211.80,189.10 L212.15,188.75 L212.50,188.41 L212.86,188.06 L213.21,187.72 L213.57,187.39 L213.93,187.05 L214.29,186.71 L214.65,186.38 L215.01,186.04 L215.38,185.71 L215.74,185.38 L216.11,185.05 L216.47,184.72 L216.84,184.39 L217.21,184.06 L217.57,183.73 L217.94,183.40 L218.31,183.07 L218.67,182.74 L219.04,182.41 L219.40,182.08 L219.77,181.75 L220.13,181.41 L220.50,181.08 L220.86,180.75 L221.22,180.41 L221.58,180.08 L221.94,179.74 L222.30,179.40 L222.66,179.07 L223.02,178.73 L223.38,178.39 L223.74,178.06 L224.10,177.72 L224.46,177.39 L224.82,177.05 L225.19,176.72 L225.55,176.39 L225.91,176.05 L226.27,175.72 L226.64,175.38 L227.00,175.05 L227.36,174.72 L227.73,174.38 L228.09,174.05 L228.46,173.72 L228.83,173.40 L229.20,173.07 L229.57,172.75 L229.95,172.43 L230.32,172.12 L230.70,171.80 L231.08,171.49 L231.46,171.18 L231.84,170.86 L232.23,170.55 L232.61,170.25 L232.99,169.94 L233.38,169.63 L233.77,169.33 L234.15,169.02 L234.54,168.72 L234.93,168.41 L235.32,168.11 L235.70,167.80 L236.09,167.50 L236.48,167.19 L236.87,166.89 L237.26,166.58 L237.64,166.28 L238.03,165.97 L238.41,165.67 L238.80,165.36 L239.18,165.05 L239.57,164.74 L239.95,164.43 L240.33,164.11 L240.71,163.80 L241.09,163.49 L241.47,163.17 L241.85,162.86 L242.22,162.54 L242.60,162.22 L242.98,161.91 L243.36,161.59 L243.73,161.27 L244.11,160.95 L244.48,160.63 L244.85,160.31 L245.22,159.98 L245.59,159.65 L245.95,159.32 L246.32,158.99 L246.68,158.66 L247.05,158.33 L247.42,158.00 L247.79,157.67 L248.16,157.35 L248.54,157.04 L248.92,156.72 L249.30,156.41 L249.68,156.10 L250.06,155.80 L250.45,155.49 L250.84,155.18 L251.22,154.88 L251.61,154.58 L252.00,154.28 L252.40,153.98 L252.79,153.68 L253.18,153.38 L253.58,153.09 L253.97,152.79 L254.37,152.50 L254.76,152.20 L255.16,151.91 L255.56,151.62 L255.96,151.33 L256.36,151.04 L256.76,150.75 L257.16,150.46 L257.56,150.18 L257.96,149.89 L258.36,149.61 L258.76,149.32 L259.17,149.04 L259.57,148.75 L259.97,148.47 L260.38,148.19 L260.79,147.92 L261.20,147.64 L261.61,147.37 L262.02,147.10 L262.43,146.82 L262.84,146.55 L263.25,146.28 L263.66,146.00 L264.06,145.72 L264.47,145.44 L264.87,145.15 L265.27,144.87 L265.67,144.58 L266.07,144.29 L266.47,144.01 L266.87,143.72 L267.28,143.44 L267.68,143.16 L268.09,142.88 L268.50,142.60 L268.91,142.33 L269.32,142.06 L269.73,141.80 L270.15,141.53 L270.57,141.27 L270.98,141.01 L271.40,140.76 L271.83,140.50 L272.25,140.25 L272.67,139.99 L273.09,139.74 L273.52,139.49 L273.94,139.24 L274.37,138.99 L274.79,138.74 L275.22,138.49 L275.64,138.24 L276.07,137.98 L276.49,137.73 L276.91,137.48 L277.34,137.23 L277.76,136.97 L278.18,136.72 L278.60,136.46 L279.02,136.20 L279.44,135.94 L279.85,135.68 L280.27,135.41 L280.68,135.13 L281.08,134.85 L281.49,134.58 L281.90,134.30 L282.31,134.02 L282.72,133.75 L283.13,133.48 L283.55,133.22 L283.97,132.96 L284.39,132.72 L284.82,132.48 L285.26,132.25 L285.70,132.03 L286.14,131.81 L286.59,131.60 L287.03,131.39 L287.48,131.18 L287.93,130.98 L288.38,130.77 L288.83,130.57 L289.28,130.37 L289.73,130.18 L290.18,129.98 L290.64,129.79 L291.09,129.60 L291.55,129.41 L292.00,129.22 L292.46,129.04 L292.91,128.85 L293.37,128.66 L293.83,128.48 L294.28,128.29 L294.74,128.11 L295.20,127.92 L295.65,127.73 L296.11,127.54 L296.56,127.35 L297.02,127.16 L297.48,126.97 L297.93,126.79 L298.39,126.60 L298.85,126.42 L299.31,126.24 L299.77,126.07 L300.23,125.90 L300.69,125.74 L301.16,125.58 L301.62,125.42 L302.09,125.26 L302.56,125.10 L303.03,124.95 L303.50,124.80 L303.97,124.65 L304.45,124.51 L304.92,124.38 L305.40,124.25 L305.88,124.14 L306.35,124.03 L306.83,123.93 L307.32,123.84 L307.80,123.75 L308.29,123.66 L308.77,123.58 L309.26,123.50 L309.75,123.42 L310.24,123.35 L310.73,123.29 L311.22,123.23 L311.71,123.17 L312.20,123.13 L312.69,123.08 L313.18,123.05 L313.67,123.01 L314.16,122.97 L314.65,122.93 L315.15,122.90 L315.64,122.86 L316.13,122.83 L316.62,122.80 L317.12,122.78 L317.61,122.75 L318.10,122.74 L318.60,122.72 L319.09,122.71 L319.58,122.70 L320.07,122.70 L320.56,122.71 L321.06,122.73 L321.56,122.76 L322.06,122.80 L322.57,122.86 L323.07,122.92 L323.57,122.99 L324.07,123.07 L324.56,123.15 L325.04,123.25 L325.52,123.35 L325.99,123.45 L326.46,123.56 L326.91,123.68 L327.35,123.81 L327.78,124.00 L328.20,124.24 L328.62,124.51 L329.03,124.81 L329.43,125.14 L329.82,125.47 L330.21,125.80 L330.60,126.12 L330.97,126.42 L331.35,126.74 L331.71,127.07 L332.08,127.40 L332.44,127.74 L332.79,128.09 L333.14,128.44 L333.49,128.80 L333.83,129.16 L334.16,129.53 L334.49,129.90 L334.81,130.27 L335.12,130.64 L335.43,131.02 L335.73,131.41 L336.03,131.80 L336.32,132.20 L336.60,132.60 L336.89,133.01 L337.17,133.42 L337.44,133.83 L337.71,134.25 L337.98,134.66 L338.24,135.08 L338.50,135.50 L338.75,135.92 L339.00,136.34 L339.25,136.77 L339.49,137.20 L339.73,137.63 L339.97,138.06 L340.20,138.50 L340.43,138.93 L340.66,139.37 L340.89,139.81 L341.11,140.25 L341.34,140.68 L341.57,141.12 L341.81,141.55 L342.04,141.99 L342.28,142.43 L342.51,142.86 L342.73,143.30 L342.95,143.75 L343.16,144.19 L343.35,144.64 L343.54,145.09 L343.71,145.55 L343.88,146.01 L344.04,146.47 L344.19,146.94 L344.34,147.41 L344.49,147.88 L344.63,148.36 L344.77,148.83 L344.91,149.31 L345.05,149.78 L345.18,150.26 L345.31,150.73 L345.45,151.21 L345.58,151.68 L345.71,152.16 L345.84,152.63 L345.97,153.11 L346.10,153.58 L346.22,154.06 L346.35,154.54 L346.47,155.01 L346.59,155.49 L346.71,155.97 L346.83,156.45 L346.95,156.92 L347.07,157.40 L347.19,157.88 L347.30,158.36 L347.42,158.84 L347.53,159.32 L347.65,159.80 L347.76,160.28 L347.88,160.76 L347.99,161.24 L348.10,161.72 L348.21,162.20 L348.32,162.68 L348.44,163.16 L348.55,163.64 L348.66,164.12 L348.77,164.60 L348.89,165.08 L349.01,165.56 L349.13,166.04 L349.25,166.52 L349.37,167.00 L349.48,167.48 L349.58,167.96 L349.67,168.44 L349.75,168.93 L349.81,169.41 L349.87,169.90 L349.92,170.39 L349.97,170.87 L350.02,171.36 L350.06,171.85 L350.11,172.34 L350.15,172.83 L350.19,173.32 L350.22,173.82 L350.26,174.31 L350.29,174.80 L350.33,175.29 L350.36,175.79 L350.39,176.28 L350.42,176.77 L350.45,177.27 L350.48,177.76 L350.50,178.25 L350.53,178.75 L350.56,179.24 L350.59,179.73 L350.61,180.22 L350.64,180.71 L350.67,181.21 L350.69,181.70 L350.72,182.19 L350.74,182.68 L350.76,183.17 L350.79,183.67 L350.81,184.16 L350.83,184.65 L350.85,185.14 L350.87,185.64 L350.89,186.13 L350.91,186.62 L350.93,187.11 L350.95,187.61 L350.97,188.10 L350.99,188.59 L351.01,189.08 L351.03,189.57 L351.05,190.07 L351.07,190.56 L351.09,191.05 L351.11,191.54 L351.13,192.04 L351.15,192.53 L351.17,193.02 L351.19,193.51 L351.21,194.01 L351.23,194.50 L351.25,194.99 L351.27,195.48 L351.29,195.98 L351.31,196.47 L351.33,196.96 L351.35,197.45 L351.37,197.94 L351.39,198.44 L351.41,198.93 L351.43,199.42 L351.45,199.91 L351.47,200.41 L351.49,200.90 L351.51,201.39 L351.53,201.88 L351.55,202.38 L351.57,202.87 L351.59,203.36 L351.61,203.85 L351.63,204.34 L351.65,204.84 L351.67,205.33 L351.69,205.82 L351.71,206.31 L351.73,206.81 L351.74,207.30 L351.76,207.79 L351.78,208.28 L351.80,208.78 L351.82,209.27 L351.84,209.76 L351.86,210.25 L351.88,210.75 L351.90,211.24 L351.92,211.73 L351.94,212.22 L351.96,212.71 L351.98,213.21 L352.00,213.70 L352.02,214.19 L352.03,214.68 L352.05,215.18 L352.07,215.67 L352.09,216.16 L352.11,216.65 L352.13,217.15 L352.15,217.64 L352.17,218.13 L352.19,218.62 L352.21,219.11 L352.23,219.61 L352.25,220.10 L352.27,220.59 L352.29,221.08 L352.31,221.58 L352.33,222.07 L352.35,222.56 L352.36,223.05 L352.38,223.55 L352.40,224.04 L352.42,224.53 L352.44,225.02 L352.46,225.52 L352.48,226.01 L352.50,226.50" fill="none" stroke="#008000" stroke-width="1.5" stroke-dasharray="13.0,4.2,2.6,4.6" /></g><path d="M70.70,227.0v-3.6M70.70,33.5v3.6M84.27,227.0v-3.6M84.27,33.5v3.6M93.90,227.0v-3.6M93.90,33.5v3.6M101.37,227.0v-3.6M101.37,33.5v3.6M107.48,227.0v-3.6M107.48,33.5v3.6M112.64,227.0v-3.6M112.64,33.5v3.6M117.11,227.0v-3.6M117.11,33.5v3.6M121.05,227.0v-3.6M121.05,33.5v3.6M124.57,227.0v-6.8M124.57,33.5v6.8M147.78,227.0v-3.6M147.78,33.5v3.6M161.35,227.0v-3.6M161.35,33.5v3.6M170.98,227.0v-3.6M170.98,33.5v3.6M178.45,227.0v-3.6M178.45,33.5v3.6M184.55,227.0v-3.6M184.55,33.5v3.6M189.71,227.0v-3.6M189.71,33.5v3.6M194.18,227.0v-3.6M194.18,33.5v3.6M198.12,227.0v-3.6M198.12,33.5v3.6M201.65,227.0v-6.8M201.65,33.5v6.8M224.85,227.0v-3.6M224.85,33.5v3.6M238.42,227.0v-3.6M238.42,33.5v3.6M248.05,227.0v-3.6M248.05,33.5v3.6M255.52,227.0v-3.6M255.52,33.5v3.6M261.62,227.0v-3.6M261.62,33.5v3.6M266.78,227.0v-3.6M266.78,33.5v3.6M271.25,227.0v-3.6M271.25,33.5v3.6M275.20,227.0v-3.6M275.20,33.5v3.6M278.72,227.0v-6.8M278.72,33.5v6.8M301.93,227.0v-3.6M301.93,33.5v3.6M315.50,227.0v-3.6M315.50,33.5v3.6M325.13,227.0v-3.6M325.13,33.5v3.6M332.60,227.0v-3.6M332.60,33.5v3.6M338.70,227.0v-3.6M338.70,33.5v3.6M343.86,227.0v-3.6M343.86,33.5v3.6M348.33,227.0v-3.6M348.33,33.5v3.6M352.27,227.0v-3.6M352.27,33.5v3.6M355.80,227.0v-6.8M355.80,33.5v6.8M47.5,212.44h3.6M379.0,212.44h-3.6M47.5,203.92h3.6M379.0,203.92h-3.6M47.5,197.88h3.6M379.0,197.88h-3.6M47.5,193.19h3.6M379.0,193.19h-3.6M47.5,189.36h3.6M379.0,189.36h-3.6M47.5,186.12h3.6M379.0,186.12h-3.6M47.5,183.31h3.6M379.0,183.31h-3.6M47.5,180.84h3.6M379.0,180.84h-3.6M47.5,178.62h6.8M379.0,178.62h-6.8M47.5,164.06h3.6M379.0,164.06h-3.6M47.5,155.54h3.6M379.0,155.54h-3.6M47.5,149.50h3.6M379.0,149.50h-3.6M47.5,144.81h3.6M379.0,144.81h-3.6M47.5,140.98h3.6M379.0,140.98h-3.6M47.5,137.74h3.6M379.0,137.74h-3.6M47.5,134.94h3.6M379.0,134.94h-3.6M47.5,132.46h3.6M379.0,132.46h-3.6M47.5,130.25h6.8M379.0,130.25h-6.8M47.5,115.69h3.6M379.0,115.69h-3.6M47.5,107.17h3.6M379.0,107.17h-3.6M47.5,101.13h3.6M379.0,101.13h-3.6M47.5,96.44h3.6M379.0,96.44h-3.6M47.5,92.61h3.6M379.0,92.61h-3.6M47.5,89.37h3.6M379.0,89.37h-3.6M47.5,86.56h3.6M379.0,86.56h-3.6M47.5,84.09h3.6M379.0,84.09h-3.6M47.5,81.88h6.8M379.0,81.88h-6.8M47.5,67.31h3.6M379.0,67.31h-3.6M47.5,58.79h3.6M379.0,58.79h-3.6M47.5,52.75h3.6M379.0,52.75h-3.6M47.5,48.06h3.6M379.0,48.06h-3.6M47.5,44.23h3.6M379.0,44.23h-3.6M47.5,40.99h3.6M379.0,40.99h-3.6M47.5,38.19h3.6M379.0,38.19h-3.6M47.5,35.71h3.6M379.0,35.71h-3.6" stroke="#000" stroke-width="1" fill="none"/><path d="M46.9,33.5H379.5M47.5,33.5V227.5" fill="none" stroke="#000" stroke-width="1.2"/><path d="M47.5,227.0H379.55M379.0,33.5V227.55" fill="none" stroke="#000" stroke-width="1.1"/><g font-family="Liberation Sans, sans-serif"><text x="41.0" y="232.0" font-size="11.05" text-anchor="end" fill="#000" >10<tspan dy="-5.7" dx="-0.6" font-size="9.1">-1</tspan><tspan dy="5.7" font-size="11.05">&#8203;</tspan></text><text x="41.0" y="183.625" font-size="11.05" text-anchor="end" fill="#000" >10<tspan dy="-5.7" dx="-0.6" font-size="9.1">0</tspan><tspan dy="5.7" font-size="11.05">&#8203;</tspan></text><text x="41.0" y="135.25" font-size="11.05" text-anchor="end" fill="#000" >10<tspan dy="-5.7" dx="-0.6" font-size="9.1">1</tspan><tspan dy="5.7" font-size="11.05">&#8203;</tspan></text><text x="41.0" y="86.875" font-size="11.05" text-anchor="end" fill="#000" >10<tspan dy="-5.7" dx="-0.6" font-size="9.1">2</tspan><tspan dy="5.7" font-size="11.05">&#8203;</tspan></text><text x="41.0" y="38.5" font-size="11.05" text-anchor="end" fill="#000" >10<tspan dy="-5.7" dx="-0.6" font-size="9.1">3</tspan><tspan dy="5.7" font-size="11.05">&#8203;</tspan></text><text x="47.5" y="246" font-size="11.05" text-anchor="middle" fill="#000" >10<tspan dy="-5.7" dx="-0.6" font-size="9.1">-1</tspan><tspan dy="5.7" font-size="11.05">&#8203;</tspan></text><text x="124.5745612874583" y="246" font-size="11.05" text-anchor="middle" fill="#000" >10<tspan dy="-5.7" dx="-0.6" font-size="9.1">0</tspan><tspan dy="5.7" font-size="11.05">&#8203;</tspan></text><text x="201.6491225749166" y="246" font-size="11.05" text-anchor="middle" fill="#000" >10<tspan dy="-5.7" dx="-0.6" font-size="9.1">1</tspan><tspan dy="5.7" font-size="11.05">&#8203;</tspan></text><text x="278.72368386237486" y="246" font-size="11.05" text-anchor="middle" fill="#000" >10<tspan dy="-5.7" dx="-0.6" font-size="9.1">2</tspan><tspan dy="5.7" font-size="11.05">&#8203;</tspan></text><text x="355.7982451498332" y="246" font-size="11.05" text-anchor="middle" fill="#000" >10<tspan dy="-5.7" dx="-0.6" font-size="9.1">3</tspan><tspan dy="5.7" font-size="11.05">&#8203;</tspan></text><text x="213.7" y="262.9" font-size="11.05" text-anchor="middle" fill="#000" >E<tspan dy="3.3" font-size="9.1">k</tspan><tspan dy="-3.3" font-size="11.05">&#8203;</tspan>(GeV)</text><text x="213.3" y="22" font-size="11.05" text-anchor="middle" fill="#000" >e<tspan dy="-4.9" dx="-0.3" font-size="9.1" stroke="#000" stroke-width="0.35">+</tspan><tspan dy="4.9" font-size="11.05">&#8203;</tspan></text><text transform="translate(13,130.25) rotate(-90)" font-size="11.42" text-anchor="middle">E<tspan dy="-5.7" dx="-0.6" font-size="9.1">3</tspan><tspan dy="5.7" font-size="11.05">&#8203;</tspan>dN/dE(GeV<tspan dy="-5.7" dx="-0.6" font-size="9.1">2</tspan><tspan dy="5.7" font-size="11.05">&#8203;</tspan>m<tspan dy="-5.7" dx="-0.6" font-size="9.1">-2</tspan><tspan dy="5.7" font-size="11.05">&#8203;</tspan>s<tspan dy="-5.7" dx="-0.6" font-size="9.1">-1</tspan><tspan dy="5.7" font-size="11.05">&#8203;</tspan>sr<tspan dy="-5.7" dx="-0.6" font-size="9.1">-1</tspan><tspan dy="5.7" font-size="11.05">&#8203;</tspan>)</text><text x="97.5" y="55.6" font-size="11.05" text-anchor="start" fill="#000" >AMS02</text><text x="97.5" y="68.9" font-size="11.05" text-anchor="start" fill="#000" >total</text><text x="97.5" y="82.3" font-size="11.05" text-anchor="start" fill="#000" >secondary</text><path d="M60.5,51.4H91.4M60.5,49.4v4M91.4,49.4v4" stroke="#990099" stroke-width="1" fill="none"/><rect x="73.6" y="48.9" width="5" height="5" fill="#990099"/><path d="M60.5,65H91.8" stroke="#000" stroke-width="1.3"/><path d="M60.5,78.3H91.8" stroke="#000" stroke-width="1.3" stroke-dasharray="9.3,4.3" stroke-dashoffset="2.3"/><text x="329.0" y="55.6" font-size="11.05" text-anchor="end" fill="#000" >extra</text><text x="329.0" y="68.9" font-size="11.05" text-anchor="end" fill="#000" >LIS</text><path d="M335.7,51.6H365.7" stroke="#000" stroke-width="1.3" stroke-dasharray="13.0,4.2,2.6,4.6"/><path d="M335.7,65H365.7" stroke="#000" stroke-width="1" stroke-opacity="0.5" stroke-dasharray="1.05,2.0"/><text transform="translate(202,55.0) scale(1,1.04)" font-size="14.8" fill="#ff0000" stroke="#ff0000" stroke-width="0.15">DC</text><text transform="translate(202,69.5) scale(1,1.04)" font-size="14.8" fill="#008000" stroke="#008000" stroke-width="0.15">DR</text></g></svg></body></html>
